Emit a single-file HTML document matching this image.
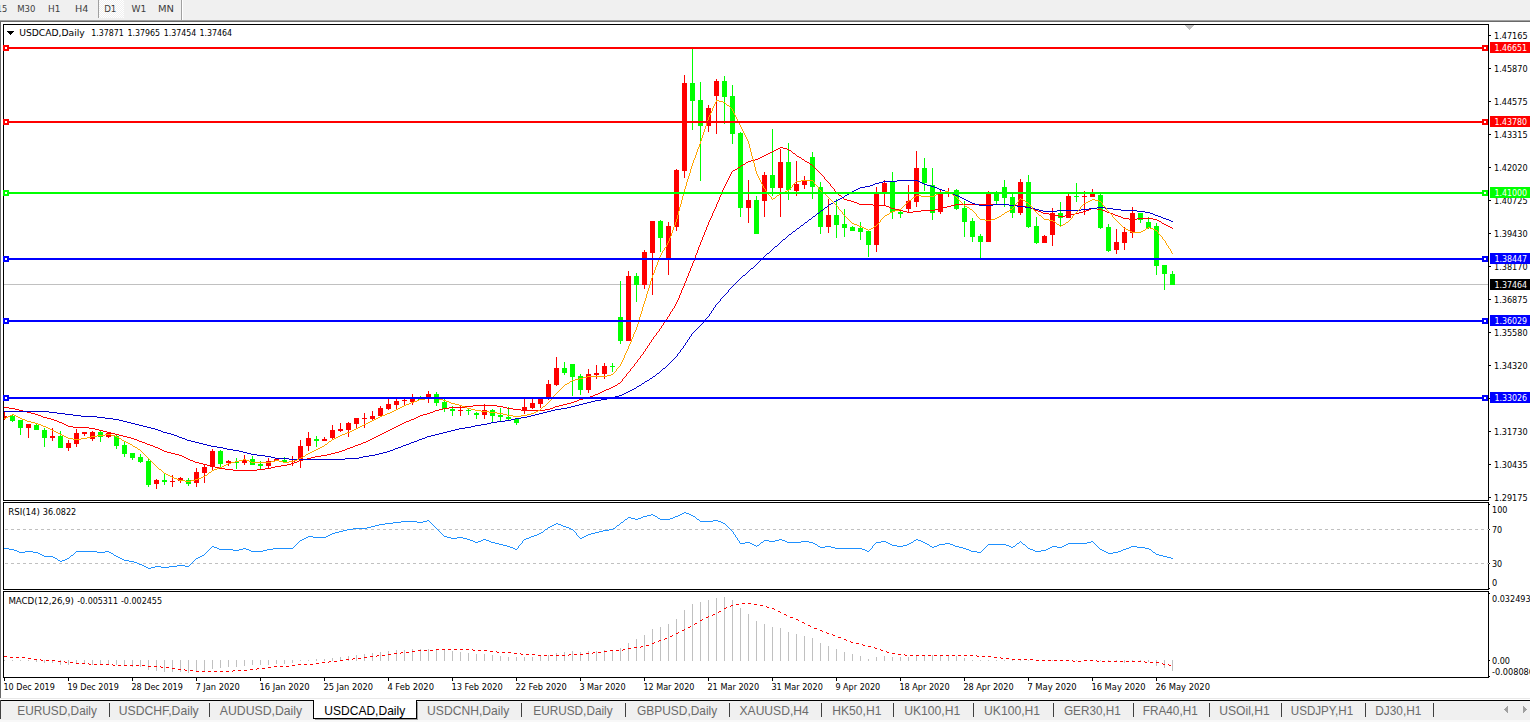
<!DOCTYPE html><html><head><meta charset="utf-8"><title>USDCAD,Daily</title><style>html,body{margin:0;padding:0;background:#fff;overflow:hidden}body{width:1530px;height:722px}text{font-family:"Liberation Sans",sans-serif;white-space:pre}text.s{font-family:"DejaVu Sans Condensed","DejaVu Sans","Liberation Sans",sans-serif}</style></head><body><svg width="1530" height="722" viewBox="0 0 1530 722" shape-rendering="crispEdges" font-family="'Liberation Sans', sans-serif" style="display:block"><rect x="0" y="0" width="1530" height="722" fill="#fff"/>
<rect x="0" y="0" width="1530" height="20" fill="#f0f0f0"/>
<rect x="0" y="20" width="1530" height="1" fill="#a0a0a0"/>
<rect x="0" y="21" width="1530" height="1" fill="#696969"/>
<rect x="0" y="22" width="1" height="676" fill="#696969"/>
<rect x="98" y="0" width="1" height="18" fill="#a0a0a0"/>
<defs><pattern id="chk" width="2" height="2" patternUnits="userSpaceOnUse"><rect width="2" height="2" fill="#f0f0f0"/><rect width="1" height="1" fill="#fff"/><rect x="1" y="1" width="1" height="1" fill="#fff"/></pattern></defs>
<rect x="99" y="0" width="25" height="18" fill="url(#chk)"/>
<rect x="181" y="0" width="1" height="20" fill="#a0a0a0"/>
<rect x="182" y="0" width="1" height="20" fill="#fff"/>
<g opacity="0.99">
<text x="-10.4" y="12" font-size="9.5" fill="#3c3c3c" textLength="17.6" lengthAdjust="spacingAndGlyphs" class="s">M15</text>
<text x="17.2" y="12" font-size="9.5" fill="#3c3c3c" textLength="18.2" lengthAdjust="spacingAndGlyphs" class="s">M30</text>
<text x="48" y="12" font-size="9.5" fill="#3c3c3c" textLength="12.4" lengthAdjust="spacingAndGlyphs" class="s">H1</text>
<text x="75" y="12" font-size="9.5" fill="#3c3c3c" textLength="13.4" lengthAdjust="spacingAndGlyphs" class="s">H4</text>
<text x="104.2" y="12" font-size="9.5" fill="#3c3c3c" textLength="12.2" lengthAdjust="spacingAndGlyphs" class="s">D1</text>
<text x="131.6" y="12" font-size="9.5" fill="#3c3c3c" textLength="14.8" lengthAdjust="spacingAndGlyphs" class="s">W1</text>
<text x="158" y="12" font-size="9.5" fill="#3c3c3c" textLength="16" lengthAdjust="spacingAndGlyphs" class="s">MN</text>
</g>
<rect x="3" y="24" width="1486" height="1" fill="#000"/>
<rect x="3" y="24" width="1" height="654" fill="#000"/>
<rect x="1488" y="24" width="1" height="654" fill="#000"/>
<rect x="3" y="500" width="1486" height="1" fill="#000"/>
<rect x="3" y="501" width="1486" height="1" fill="#fff"/>
<rect x="3" y="502" width="1486" height="1" fill="#000"/>
<rect x="3" y="589" width="1486" height="1" fill="#000"/>
<rect x="3" y="590" width="1486" height="1" fill="#fff"/>
<rect x="3" y="591" width="1486" height="1" fill="#000"/>
<rect x="3" y="677" width="1486" height="1" fill="#000"/>
<clipPath id="cm"><rect x="4" y="25" width="1484" height="475"/></clipPath>
<g clip-path="url(#cm)">
<rect x="4" y="284" width="1484" height="1" fill="#c0c0c0"/>
<rect x="4" y="412" width="1" height="8" fill="#ff0000"/>
<rect x="2" y="416" width="5" height="2" fill="#ff0000"/>
<rect x="12" y="414" width="1" height="8" fill="#00ff00"/>
<rect x="10" y="416" width="5" height="5" fill="#00ff00"/>
<rect x="20" y="420" width="1" height="15" fill="#00ff00"/>
<rect x="18" y="420" width="5" height="8" fill="#00ff00"/>
<rect x="28" y="424" width="1" height="14" fill="#ff0000"/>
<rect x="26" y="424" width="5" height="4" fill="#ff0000"/>
<rect x="36" y="424" width="1" height="6" fill="#00ff00"/>
<rect x="34" y="425" width="5" height="5" fill="#00ff00"/>
<rect x="44" y="428" width="1" height="19" fill="#00ff00"/>
<rect x="42" y="430" width="5" height="8" fill="#00ff00"/>
<rect x="52" y="428" width="1" height="13" fill="#ff0000"/>
<rect x="50" y="436" width="5" height="2" fill="#ff0000"/>
<rect x="60" y="431" width="1" height="17" fill="#00ff00"/>
<rect x="58" y="436" width="5" height="12" fill="#00ff00"/>
<rect x="68" y="440" width="1" height="11" fill="#ff0000"/>
<rect x="66" y="443" width="5" height="5" fill="#ff0000"/>
<rect x="76" y="429" width="1" height="18" fill="#ff0000"/>
<rect x="74" y="433" width="5" height="11" fill="#ff0000"/>
<rect x="84" y="432" width="1" height="4" fill="#ff0000"/>
<rect x="82" y="432" width="5" height="2" fill="#ff0000"/>
<rect x="92" y="431" width="1" height="10" fill="#ff0000"/>
<rect x="90" y="432" width="5" height="7" fill="#ff0000"/>
<rect x="100" y="431" width="1" height="11" fill="#00ff00"/>
<rect x="98" y="432" width="5" height="5" fill="#00ff00"/>
<rect x="108" y="432" width="1" height="6" fill="#ff0000"/>
<rect x="106" y="433" width="5" height="4" fill="#ff0000"/>
<rect x="116" y="435" width="1" height="14" fill="#00ff00"/>
<rect x="114" y="436" width="5" height="10" fill="#00ff00"/>
<rect x="124" y="441" width="1" height="16" fill="#00ff00"/>
<rect x="122" y="445" width="5" height="9" fill="#00ff00"/>
<rect x="132" y="453" width="1" height="7" fill="#00ff00"/>
<rect x="130" y="453" width="5" height="5" fill="#00ff00"/>
<rect x="140" y="454" width="1" height="9" fill="#00ff00"/>
<rect x="138" y="457" width="5" height="5" fill="#00ff00"/>
<rect x="148" y="458" width="1" height="29" fill="#00ff00"/>
<rect x="146" y="461" width="5" height="24" fill="#00ff00"/>
<rect x="156" y="479" width="1" height="10" fill="#ff0000"/>
<rect x="154" y="480" width="5" height="4" fill="#ff0000"/>
<rect x="164" y="473" width="1" height="12" fill="#00ff00"/>
<rect x="162" y="480" width="5" height="2" fill="#00ff00"/>
<rect x="172" y="475" width="1" height="12" fill="#ff0000"/>
<rect x="170" y="481" width="5" height="1" fill="#ff0000"/>
<rect x="180" y="477" width="1" height="6" fill="#ff0000"/>
<rect x="178" y="478" width="5" height="3" fill="#ff0000"/>
<rect x="188" y="478" width="1" height="8" fill="#00ff00"/>
<rect x="186" y="480" width="5" height="4" fill="#00ff00"/>
<rect x="196" y="468" width="1" height="19" fill="#ff0000"/>
<rect x="194" y="472" width="5" height="11" fill="#ff0000"/>
<rect x="204" y="465" width="1" height="18" fill="#ff0000"/>
<rect x="202" y="467" width="5" height="6" fill="#ff0000"/>
<rect x="212" y="449" width="1" height="21" fill="#ff0000"/>
<rect x="210" y="451" width="5" height="16" fill="#ff0000"/>
<rect x="220" y="450" width="1" height="17" fill="#00ff00"/>
<rect x="218" y="451" width="5" height="13" fill="#00ff00"/>
<rect x="228" y="460" width="1" height="6" fill="#ff0000"/>
<rect x="226" y="461" width="5" height="2" fill="#ff0000"/>
<rect x="236" y="458" width="1" height="11" fill="#00ff00"/>
<rect x="234" y="462" width="5" height="1" fill="#00ff00"/>
<rect x="244" y="455" width="1" height="10" fill="#ff0000"/>
<rect x="242" y="460" width="5" height="3" fill="#ff0000"/>
<rect x="252" y="456" width="1" height="9" fill="#00ff00"/>
<rect x="250" y="459" width="5" height="6" fill="#00ff00"/>
<rect x="260" y="461" width="1" height="8" fill="#00ff00"/>
<rect x="258" y="464" width="5" height="2" fill="#00ff00"/>
<rect x="268" y="458" width="1" height="10" fill="#ff0000"/>
<rect x="266" y="461" width="5" height="5" fill="#ff0000"/>
<rect x="276" y="458" width="1" height="3" fill="#ff0000"/>
<rect x="274" y="459" width="5" height="2" fill="#ff0000"/>
<rect x="284" y="457" width="1" height="5" fill="#00ff00"/>
<rect x="282" y="460" width="5" height="2" fill="#00ff00"/>
<rect x="292" y="456" width="1" height="10" fill="#ff0000"/>
<rect x="290" y="461" width="5" height="1" fill="#ff0000"/>
<rect x="300" y="440" width="1" height="28" fill="#ff0000"/>
<rect x="298" y="446" width="5" height="14" fill="#ff0000"/>
<rect x="308" y="432" width="1" height="19" fill="#ff0000"/>
<rect x="306" y="438" width="5" height="8" fill="#ff0000"/>
<rect x="316" y="436" width="1" height="11" fill="#00ff00"/>
<rect x="314" y="439" width="5" height="2" fill="#00ff00"/>
<rect x="324" y="437" width="1" height="4" fill="#ff0000"/>
<rect x="322" y="439" width="5" height="2" fill="#ff0000"/>
<rect x="332" y="425" width="1" height="14" fill="#ff0000"/>
<rect x="330" y="430" width="5" height="8" fill="#ff0000"/>
<rect x="340" y="423" width="1" height="9" fill="#ff0000"/>
<rect x="338" y="429" width="5" height="2" fill="#ff0000"/>
<rect x="348" y="422" width="1" height="15" fill="#ff0000"/>
<rect x="346" y="423" width="5" height="7" fill="#ff0000"/>
<rect x="356" y="418" width="1" height="10" fill="#ff0000"/>
<rect x="354" y="418" width="5" height="6" fill="#ff0000"/>
<rect x="364" y="413" width="1" height="15" fill="#ff0000"/>
<rect x="362" y="418" width="5" height="1" fill="#ff0000"/>
<rect x="372" y="411" width="1" height="10" fill="#ff0000"/>
<rect x="370" y="416" width="5" height="3" fill="#ff0000"/>
<rect x="380" y="406" width="1" height="11" fill="#ff0000"/>
<rect x="378" y="408" width="5" height="8" fill="#ff0000"/>
<rect x="388" y="399" width="1" height="11" fill="#ff0000"/>
<rect x="386" y="404" width="5" height="5" fill="#ff0000"/>
<rect x="396" y="399" width="1" height="10" fill="#ff0000"/>
<rect x="394" y="401" width="5" height="4" fill="#ff0000"/>
<rect x="404" y="399" width="1" height="7" fill="#ff0000"/>
<rect x="402" y="400" width="5" height="1" fill="#ff0000"/>
<rect x="412" y="394" width="1" height="11" fill="#ff0000"/>
<rect x="410" y="399" width="5" height="3" fill="#ff0000"/>
<rect x="420" y="396" width="1" height="4" fill="#00ff00"/>
<rect x="418" y="397" width="5" height="3" fill="#00ff00"/>
<rect x="428" y="391" width="1" height="12" fill="#ff0000"/>
<rect x="426" y="394" width="5" height="4" fill="#ff0000"/>
<rect x="436" y="392" width="1" height="14" fill="#00ff00"/>
<rect x="434" y="394" width="5" height="9" fill="#00ff00"/>
<rect x="444" y="399" width="1" height="13" fill="#00ff00"/>
<rect x="442" y="402" width="5" height="7" fill="#00ff00"/>
<rect x="452" y="406" width="1" height="10" fill="#00ff00"/>
<rect x="450" y="409" width="5" height="2" fill="#00ff00"/>
<rect x="460" y="405" width="1" height="11" fill="#ff0000"/>
<rect x="458" y="410" width="5" height="1" fill="#ff0000"/>
<rect x="468" y="408" width="1" height="7" fill="#00ff00"/>
<rect x="466" y="410" width="5" height="1" fill="#00ff00"/>
<rect x="476" y="412" width="1" height="7" fill="#00ff00"/>
<rect x="474" y="413" width="5" height="2" fill="#00ff00"/>
<rect x="484" y="404" width="1" height="15" fill="#ff0000"/>
<rect x="482" y="410" width="5" height="5" fill="#ff0000"/>
<rect x="492" y="409" width="1" height="13" fill="#00ff00"/>
<rect x="490" y="410" width="5" height="6" fill="#00ff00"/>
<rect x="500" y="408" width="1" height="13" fill="#00ff00"/>
<rect x="498" y="415" width="5" height="2" fill="#00ff00"/>
<rect x="508" y="407" width="1" height="14" fill="#00ff00"/>
<rect x="506" y="417" width="5" height="2" fill="#00ff00"/>
<rect x="516" y="418" width="1" height="7" fill="#00ff00"/>
<rect x="514" y="419" width="5" height="4" fill="#00ff00"/>
<rect x="524" y="399" width="1" height="15" fill="#ff0000"/>
<rect x="522" y="407" width="5" height="4" fill="#ff0000"/>
<rect x="532" y="399" width="1" height="10" fill="#ff0000"/>
<rect x="530" y="403" width="5" height="5" fill="#ff0000"/>
<rect x="540" y="399" width="1" height="9" fill="#ff0000"/>
<rect x="538" y="399" width="5" height="5" fill="#ff0000"/>
<rect x="548" y="380" width="1" height="20" fill="#ff0000"/>
<rect x="546" y="384" width="5" height="14" fill="#ff0000"/>
<rect x="556" y="357" width="1" height="29" fill="#ff0000"/>
<rect x="554" y="368" width="5" height="17" fill="#ff0000"/>
<rect x="564" y="362" width="1" height="13" fill="#00ff00"/>
<rect x="562" y="368" width="5" height="5" fill="#00ff00"/>
<rect x="572" y="364" width="1" height="32" fill="#00ff00"/>
<rect x="570" y="364" width="5" height="13" fill="#00ff00"/>
<rect x="580" y="374" width="1" height="21" fill="#00ff00"/>
<rect x="578" y="376" width="5" height="14" fill="#00ff00"/>
<rect x="588" y="369" width="1" height="24" fill="#ff0000"/>
<rect x="586" y="374" width="5" height="16" fill="#ff0000"/>
<rect x="596" y="365" width="1" height="14" fill="#ff0000"/>
<rect x="594" y="373" width="5" height="2" fill="#ff0000"/>
<rect x="604" y="363" width="1" height="16" fill="#ff0000"/>
<rect x="602" y="366" width="5" height="8" fill="#ff0000"/>
<rect x="612" y="363" width="1" height="9" fill="#00ff00"/>
<rect x="610" y="366" width="5" height="1" fill="#00ff00"/>
<rect x="620" y="281" width="1" height="63" fill="#00ff00"/>
<rect x="618" y="317" width="5" height="24" fill="#00ff00"/>
<rect x="628" y="271" width="1" height="70" fill="#ff0000"/>
<rect x="626" y="276" width="5" height="65" fill="#ff0000"/>
<rect x="636" y="273" width="1" height="29" fill="#00ff00"/>
<rect x="634" y="276" width="5" height="9" fill="#00ff00"/>
<rect x="644" y="250" width="1" height="39" fill="#ff0000"/>
<rect x="642" y="252" width="5" height="33" fill="#ff0000"/>
<rect x="652" y="221" width="1" height="74" fill="#ff0000"/>
<rect x="650" y="221" width="5" height="32" fill="#ff0000"/>
<rect x="660" y="220" width="1" height="32" fill="#00ff00"/>
<rect x="658" y="221" width="5" height="17" fill="#00ff00"/>
<rect x="668" y="222" width="1" height="53" fill="#ff0000"/>
<rect x="666" y="226" width="5" height="32" fill="#ff0000"/>
<rect x="676" y="169" width="1" height="62" fill="#ff0000"/>
<rect x="674" y="170" width="5" height="57" fill="#ff0000"/>
<rect x="684" y="75" width="1" height="103" fill="#ff0000"/>
<rect x="682" y="83" width="5" height="88" fill="#ff0000"/>
<rect x="692" y="49" width="1" height="81" fill="#00ff00"/>
<rect x="690" y="83" width="5" height="18" fill="#00ff00"/>
<rect x="700" y="82" width="1" height="99" fill="#00ff00"/>
<rect x="698" y="100" width="5" height="26" fill="#00ff00"/>
<rect x="708" y="105" width="1" height="27" fill="#ff0000"/>
<rect x="706" y="108" width="5" height="18" fill="#ff0000"/>
<rect x="716" y="79" width="1" height="55" fill="#ff0000"/>
<rect x="714" y="81" width="5" height="15" fill="#ff0000"/>
<rect x="724" y="76" width="1" height="48" fill="#00ff00"/>
<rect x="722" y="81" width="5" height="16" fill="#00ff00"/>
<rect x="732" y="85" width="1" height="59" fill="#00ff00"/>
<rect x="730" y="96" width="5" height="38" fill="#00ff00"/>
<rect x="740" y="132" width="1" height="85" fill="#00ff00"/>
<rect x="738" y="133" width="5" height="75" fill="#00ff00"/>
<rect x="748" y="180" width="1" height="43" fill="#ff0000"/>
<rect x="746" y="200" width="5" height="8" fill="#ff0000"/>
<rect x="756" y="196" width="1" height="38" fill="#00ff00"/>
<rect x="754" y="200" width="5" height="34" fill="#00ff00"/>
<rect x="764" y="172" width="1" height="45" fill="#ff0000"/>
<rect x="762" y="175" width="5" height="26" fill="#ff0000"/>
<rect x="772" y="129" width="1" height="67" fill="#00ff00"/>
<rect x="770" y="175" width="5" height="13" fill="#00ff00"/>
<rect x="780" y="149" width="1" height="68" fill="#ff0000"/>
<rect x="778" y="162" width="5" height="26" fill="#ff0000"/>
<rect x="788" y="143" width="1" height="57" fill="#00ff00"/>
<rect x="786" y="162" width="5" height="28" fill="#00ff00"/>
<rect x="796" y="161" width="1" height="35" fill="#ff0000"/>
<rect x="794" y="184" width="5" height="7" fill="#ff0000"/>
<rect x="804" y="176" width="1" height="13" fill="#ff0000"/>
<rect x="802" y="180" width="5" height="5" fill="#ff0000"/>
<rect x="812" y="152" width="1" height="47" fill="#00ff00"/>
<rect x="810" y="157" width="5" height="30" fill="#00ff00"/>
<rect x="820" y="182" width="1" height="52" fill="#00ff00"/>
<rect x="818" y="187" width="5" height="40" fill="#00ff00"/>
<rect x="828" y="199" width="1" height="34" fill="#ff0000"/>
<rect x="826" y="215" width="5" height="12" fill="#ff0000"/>
<rect x="836" y="199" width="1" height="39" fill="#00ff00"/>
<rect x="834" y="215" width="5" height="10" fill="#00ff00"/>
<rect x="844" y="209" width="1" height="28" fill="#00ff00"/>
<rect x="842" y="224" width="5" height="4" fill="#00ff00"/>
<rect x="852" y="226" width="1" height="5" fill="#00ff00"/>
<rect x="850" y="227" width="5" height="4" fill="#00ff00"/>
<rect x="860" y="222" width="1" height="18" fill="#00ff00"/>
<rect x="858" y="228" width="5" height="4" fill="#00ff00"/>
<rect x="868" y="230" width="1" height="27" fill="#00ff00"/>
<rect x="866" y="231" width="5" height="14" fill="#00ff00"/>
<rect x="876" y="187" width="1" height="65" fill="#ff0000"/>
<rect x="874" y="194" width="5" height="51" fill="#ff0000"/>
<rect x="884" y="180" width="1" height="26" fill="#ff0000"/>
<rect x="882" y="183" width="5" height="9" fill="#ff0000"/>
<rect x="892" y="172" width="1" height="47" fill="#00ff00"/>
<rect x="890" y="182" width="5" height="30" fill="#00ff00"/>
<rect x="900" y="210" width="1" height="8" fill="#00ff00"/>
<rect x="898" y="212" width="5" height="2" fill="#00ff00"/>
<rect x="908" y="185" width="1" height="27" fill="#ff0000"/>
<rect x="906" y="201" width="5" height="8" fill="#ff0000"/>
<rect x="916" y="151" width="1" height="56" fill="#ff0000"/>
<rect x="914" y="168" width="5" height="34" fill="#ff0000"/>
<rect x="924" y="158" width="1" height="33" fill="#00ff00"/>
<rect x="922" y="168" width="5" height="15" fill="#00ff00"/>
<rect x="932" y="168" width="1" height="52" fill="#00ff00"/>
<rect x="930" y="185" width="5" height="28" fill="#00ff00"/>
<rect x="940" y="190" width="1" height="24" fill="#ff0000"/>
<rect x="938" y="192" width="5" height="20" fill="#ff0000"/>
<rect x="948" y="188" width="1" height="9" fill="#ff0000"/>
<rect x="946" y="192" width="5" height="2" fill="#ff0000"/>
<rect x="956" y="189" width="1" height="21" fill="#00ff00"/>
<rect x="954" y="190" width="5" height="19" fill="#00ff00"/>
<rect x="964" y="201" width="1" height="36" fill="#00ff00"/>
<rect x="962" y="208" width="5" height="14" fill="#00ff00"/>
<rect x="972" y="218" width="1" height="24" fill="#00ff00"/>
<rect x="970" y="221" width="5" height="16" fill="#00ff00"/>
<rect x="980" y="234" width="1" height="24" fill="#00ff00"/>
<rect x="978" y="236" width="5" height="6" fill="#00ff00"/>
<rect x="988" y="191" width="1" height="51" fill="#ff0000"/>
<rect x="986" y="194" width="5" height="48" fill="#ff0000"/>
<rect x="996" y="191" width="1" height="13" fill="#00ff00"/>
<rect x="994" y="192" width="5" height="9" fill="#00ff00"/>
<rect x="1004" y="180" width="1" height="27" fill="#00ff00"/>
<rect x="1002" y="187" width="5" height="11" fill="#00ff00"/>
<rect x="1012" y="194" width="1" height="24" fill="#00ff00"/>
<rect x="1010" y="197" width="5" height="16" fill="#00ff00"/>
<rect x="1020" y="179" width="1" height="36" fill="#ff0000"/>
<rect x="1018" y="182" width="5" height="31" fill="#ff0000"/>
<rect x="1028" y="175" width="1" height="53" fill="#00ff00"/>
<rect x="1026" y="182" width="5" height="45" fill="#00ff00"/>
<rect x="1036" y="217" width="1" height="27" fill="#00ff00"/>
<rect x="1034" y="226" width="5" height="17" fill="#00ff00"/>
<rect x="1044" y="235" width="1" height="8" fill="#ff0000"/>
<rect x="1042" y="236" width="5" height="7" fill="#ff0000"/>
<rect x="1052" y="208" width="1" height="38" fill="#ff0000"/>
<rect x="1050" y="213" width="5" height="22" fill="#ff0000"/>
<rect x="1060" y="202" width="1" height="25" fill="#00ff00"/>
<rect x="1058" y="213" width="5" height="5" fill="#00ff00"/>
<rect x="1068" y="194" width="1" height="24" fill="#ff0000"/>
<rect x="1066" y="196" width="5" height="22" fill="#ff0000"/>
<rect x="1076" y="183" width="1" height="19" fill="#00ff00"/>
<rect x="1074" y="196" width="5" height="1" fill="#00ff00"/>
<rect x="1084" y="191" width="1" height="24" fill="#ff0000"/>
<rect x="1082" y="196" width="5" height="1" fill="#ff0000"/>
<rect x="1092" y="189" width="1" height="8" fill="#ff0000"/>
<rect x="1090" y="192" width="5" height="5" fill="#ff0000"/>
<rect x="1100" y="194" width="1" height="35" fill="#00ff00"/>
<rect x="1098" y="195" width="5" height="33" fill="#00ff00"/>
<rect x="1108" y="224" width="1" height="28" fill="#00ff00"/>
<rect x="1106" y="227" width="5" height="24" fill="#00ff00"/>
<rect x="1116" y="229" width="1" height="25" fill="#ff0000"/>
<rect x="1114" y="242" width="5" height="8" fill="#ff0000"/>
<rect x="1124" y="227" width="1" height="23" fill="#ff0000"/>
<rect x="1122" y="232" width="5" height="11" fill="#ff0000"/>
<rect x="1132" y="207" width="1" height="31" fill="#ff0000"/>
<rect x="1130" y="213" width="5" height="20" fill="#ff0000"/>
<rect x="1140" y="213" width="1" height="10" fill="#00ff00"/>
<rect x="1138" y="213" width="5" height="7" fill="#00ff00"/>
<rect x="1148" y="217" width="1" height="12" fill="#00ff00"/>
<rect x="1146" y="222" width="5" height="6" fill="#00ff00"/>
<rect x="1156" y="223" width="1" height="52" fill="#00ff00"/>
<rect x="1154" y="226" width="5" height="40" fill="#00ff00"/>
<rect x="1164" y="265" width="1" height="25" fill="#00ff00"/>
<rect x="1162" y="265" width="5" height="9" fill="#00ff00"/>
<rect x="1172" y="271" width="1" height="14" fill="#00ff00"/>
<rect x="1170" y="274" width="5" height="11" fill="#00ff00"/>
</g>
<g clip-path="url(#cm)">
<path d="M780 147h3v1h-3zM778 148h2v1h-2zM783 148h4v1h-4zM776 149h2v1h-2zM787 149h2v1h-2zM774 150h2v1h-2zM789 150h2v1h-2zM772 151h2v1h-2zM791 151h1v1h-1zM770 152h2v1h-2zM792 152h1v1h-1zM768 153h2v1h-2zM793 153h2v1h-2zM766 154h2v1h-2zM795 154h1v1h-1zM764 155h2v1h-2zM796 155h1v1h-1zM762 156h2v1h-2zM797 156h2v1h-2zM760 157h2v1h-2zM799 157h2v1h-2zM758 158h2v1h-2zM801 158h1v1h-1zM755 159h3v1h-3zM802 159h2v1h-2zM751 160h4v1h-4zM804 160h1v1h-1zM748 161h3v1h-3zM805 161h2v1h-2zM746 162h2v1h-2zM807 162h2v1h-2zM745 163h1v1h-1zM809 163h1v1h-1zM743 164h2v1h-2zM810 164h2v1h-2zM741 165h2v1h-2zM812 165h1v1h-1zM740 166h1v1h-1zM813 166h1v1h-1zM738 167h2v1h-2zM814 167h1v1h-1zM737 168h1v1h-1zM815 168h1v1h-1zM735 169h2v1h-2zM816 169h1v1h-1zM733 170h2v1h-2zM817 170h1v1h-1zM732 171h1v1h-1zM818 171h1v1h-1zM731 172h1v1h-1zM819 172h1v1h-1zM731 173h1v1h-1zM820 173h1v1h-1zM730 174h1v1h-1zM821 174h1v1h-1zM730 175h1v1h-1zM822 175h1v1h-1zM729 176h1v1h-1zM823 176h1v1h-1zM729 177h1v1h-1zM824 177h1v1h-1zM728 178h1v1h-1zM824 178h1v1h-1zM728 179h1v1h-1zM825 179h1v1h-1zM727 180h1v1h-1zM826 180h1v1h-1zM727 181h1v1h-1zM827 181h1v1h-1zM726 182h1v1h-1zM828 182h1v1h-1zM726 183h1v1h-1zM829 183h1v1h-1zM725 184h1v1h-1zM830 184h1v1h-1zM725 185h1v1h-1zM830 185h1v1h-1zM724 186h1v1h-1zM831 186h1v1h-1zM724 187h1v1h-1zM832 187h1v1h-1zM723 188h1v1h-1zM833 188h1v1h-1zM723 189h1v1h-1zM834 189h1v1h-1zM722 190h1v1h-1zM834 190h1v1h-1zM722 191h1v1h-1zM835 191h1v1h-1zM721 192h1v1h-1zM836 192h1v1h-1zM721 193h1v1h-1zM837 193h1v1h-1zM721 194h1v1h-1zM838 194h1v1h-1zM720 195h1v1h-1zM839 195h2v1h-2zM720 196h1v1h-1zM841 196h1v1h-1zM719 197h1v1h-1zM842 197h1v1h-1zM719 198h1v1h-1zM843 198h1v1h-1zM719 199h1v1h-1zM844 199h3v1h-3zM718 200h1v1h-1zM847 200h4v1h-4zM718 201h1v1h-1zM851 201h3v1h-3zM717 202h1v1h-1zM854 202h3v1h-3zM717 203h1v1h-1zM857 203h2v1h-2zM716 204h1v1h-1zM859 204h14v1h-14zM955 204h54v1h-54zM716 205h1v1h-1zM873 205h13v1h-13zM951 205h4v1h-4zM1009 205h14v1h-14zM716 206h1v1h-1zM886 206h3v1h-3zM947 206h4v1h-4zM1023 206h4v1h-4zM715 207h1v1h-1zM889 207h2v1h-2zM943 207h4v1h-4zM1027 207h3v1h-3zM715 208h1v1h-1zM891 208h4v1h-4zM939 208h4v1h-4zM1030 208h3v1h-3zM1091 208h6v1h-6zM714 209h1v1h-1zM895 209h4v1h-4zM935 209h4v1h-4zM1033 209h2v1h-2zM1089 209h2v1h-2zM1097 209h5v1h-5zM714 210h1v1h-1zM899 210h4v1h-4zM921 210h14v1h-14zM1035 210h3v1h-3zM1086 210h3v1h-3zM1102 210h3v1h-3zM713 211h1v1h-1zM903 211h4v1h-4zM913 211h8v1h-8zM1038 211h3v1h-3zM1083 211h3v1h-3zM1105 211h2v1h-2zM713 212h1v1h-1zM907 212h6v1h-6zM1041 212h2v1h-2zM1079 212h4v1h-4zM1107 212h3v1h-3zM712 213h1v1h-1zM1043 213h6v1h-6zM1075 213h4v1h-4zM1110 213h3v1h-3zM712 214h1v1h-1zM1049 214h6v1h-6zM1071 214h4v1h-4zM1113 214h2v1h-2zM712 215h1v1h-1zM1055 215h4v1h-4zM1065 215h6v1h-6zM1115 215h3v1h-3zM711 216h1v1h-1zM1059 216h6v1h-6zM1118 216h3v1h-3zM711 217h1v1h-1zM1121 217h2v1h-2zM710 218h1v1h-1zM1123 218h6v1h-6zM1137 218h16v1h-16zM710 219h1v1h-1zM1129 219h8v1h-8zM1153 219h4v1h-4zM709 220h1v1h-1zM1157 220h2v1h-2zM709 221h1v1h-1zM1159 221h2v1h-2zM708 222h1v1h-1zM1161 222h1v1h-1zM708 223h1v1h-1zM1162 223h2v1h-2zM708 224h1v1h-1zM1164 224h2v1h-2zM707 225h1v1h-1zM1166 225h2v1h-2zM707 226h1v1h-1zM1168 226h2v1h-2zM706 227h1v1h-1zM1170 227h2v1h-2zM706 228h1v1h-1zM1172 228h1v1h-1zM706 229h1v1h-1zM705 230h1v1h-1zM705 231h1v1h-1zM704 232h1v1h-1zM704 233h1v1h-1zM704 234h1v1h-1zM703 235h1v1h-1zM703 236h1v1h-1zM702 237h1v1h-1zM702 238h1v1h-1zM702 239h1v1h-1zM701 240h1v1h-1zM701 241h1v1h-1zM700 242h1v1h-1zM700 243h1v1h-1zM700 244h1v1h-1zM699 245h1v1h-1zM699 246h1v1h-1zM698 247h1v1h-1zM698 248h1v1h-1zM698 249h1v1h-1zM697 250h1v1h-1zM697 251h1v1h-1zM697 252h1v1h-1zM696 253h1v1h-1zM696 254h1v1h-1zM695 255h1v1h-1zM695 256h1v1h-1zM695 257h1v1h-1zM694 258h1v1h-1zM694 259h1v1h-1zM694 260h1v1h-1zM693 261h1v1h-1zM693 262h1v1h-1zM692 263h1v1h-1zM692 264h1v1h-1zM692 265h1v1h-1zM691 266h1v1h-1zM691 267h1v1h-1zM690 268h1v1h-1zM690 269h1v1h-1zM690 270h1v1h-1zM689 271h1v1h-1zM689 272h1v1h-1zM688 273h1v1h-1zM688 274h1v1h-1zM688 275h1v1h-1zM687 276h1v1h-1zM687 277h1v1h-1zM686 278h1v1h-1zM686 279h1v1h-1zM686 280h1v1h-1zM685 281h1v1h-1zM685 282h1v1h-1zM684 283h1v1h-1zM684 284h1v1h-1zM684 285h1v1h-1zM683 286h1v1h-1zM683 287h1v1h-1zM682 288h1v1h-1zM682 289h1v1h-1zM681 290h1v1h-1zM681 291h1v1h-1zM681 292h1v1h-1zM680 293h1v1h-1zM680 294h1v1h-1zM679 295h1v1h-1zM679 296h1v1h-1zM679 297h1v1h-1zM678 298h1v1h-1zM678 299h1v1h-1zM677 300h1v1h-1zM677 301h1v1h-1zM676 302h1v1h-1zM676 303h1v1h-1zM675 304h1v1h-1zM675 305h1v1h-1zM674 306h1v1h-1zM674 307h1v1h-1zM673 308h1v1h-1zM672 309h1v1h-1zM672 310h1v1h-1zM671 311h1v1h-1zM670 312h1v1h-1zM670 313h1v1h-1zM669 314h1v1h-1zM669 315h1v1h-1zM668 316h1v1h-1zM667 317h1v1h-1zM667 318h1v1h-1zM666 319h1v1h-1zM665 320h1v1h-1zM665 321h1v1h-1zM664 322h1v1h-1zM663 323h1v1h-1zM663 324h1v1h-1zM662 325h1v1h-1zM661 326h1v1h-1zM661 327h1v1h-1zM660 328h1v1h-1zM659 329h1v1h-1zM659 330h1v1h-1zM658 331h1v1h-1zM657 332h1v1h-1zM656 333h1v1h-1zM656 334h1v1h-1zM655 335h1v1h-1zM654 336h1v1h-1zM653 337h1v1h-1zM653 338h1v1h-1zM652 339h1v1h-1zM651 340h1v1h-1zM651 341h1v1h-1zM650 342h1v1h-1zM649 343h1v1h-1zM649 344h1v1h-1zM648 345h1v1h-1zM647 346h1v1h-1zM647 347h1v1h-1zM646 348h1v1h-1zM645 349h1v1h-1zM645 350h1v1h-1zM644 351h1v1h-1zM643 352h1v1h-1zM643 353h1v1h-1zM642 354h1v1h-1zM641 355h1v1h-1zM640 356h1v1h-1zM640 357h1v1h-1zM639 358h1v1h-1zM638 359h1v1h-1zM637 360h1v1h-1zM637 361h1v1h-1zM636 362h1v1h-1zM635 363h1v1h-1zM634 364h1v1h-1zM634 365h1v1h-1zM633 366h1v1h-1zM632 367h1v1h-1zM631 368h1v1h-1zM630 369h1v1h-1zM630 370h1v1h-1zM629 371h1v1h-1zM628 372h1v1h-1zM627 373h1v1h-1zM626 374h1v1h-1zM626 375h1v1h-1zM625 376h1v1h-1zM624 377h1v1h-1zM623 378h1v1h-1zM622 379h1v1h-1zM622 380h1v1h-1zM621 381h1v1h-1zM620 382h1v1h-1zM618 383h2v1h-2zM617 384h1v1h-1zM615 385h2v1h-2zM613 386h2v1h-2zM611 387h2v1h-2zM609 388h2v1h-2zM606 389h3v1h-3zM604 390h2v1h-2zM602 391h2v1h-2zM600 392h2v1h-2zM598 393h2v1h-2zM595 394h3v1h-3zM593 395h2v1h-2zM590 396h3v1h-3zM587 397h3v1h-3zM583 398h4v1h-4zM579 399h4v1h-4zM577 400h2v1h-2zM574 401h3v1h-3zM571 402h3v1h-3zM567 403h4v1h-4zM563 404h4v1h-4zM473 405h24v1h-24zM559 405h4v1h-4zM465 406h8v1h-8zM497 406h6v1h-6zM555 406h4v1h-4zM4 407h5v1h-5zM449 407h16v1h-16zM503 407h4v1h-4zM553 407h2v1h-2zM9 408h6v1h-6zM443 408h6v1h-6zM507 408h6v1h-6zM550 408h3v1h-3zM15 409h4v1h-4zM439 409h4v1h-4zM513 409h8v1h-8zM545 409h5v1h-5zM19 410h4v1h-4zM435 410h4v1h-4zM521 410h24v1h-24zM23 411h4v1h-4zM433 411h2v1h-2zM27 412h4v1h-4zM430 412h3v1h-3zM31 413h4v1h-4zM427 413h3v1h-3zM35 414h3v1h-3zM423 414h4v1h-4zM38 415h3v1h-3zM420 415h3v1h-3zM41 416h2v1h-2zM418 416h2v1h-2zM43 417h4v1h-4zM416 417h2v1h-2zM47 418h4v1h-4zM414 418h2v1h-2zM51 419h3v1h-3zM411 419h3v1h-3zM54 420h3v1h-3zM409 420h2v1h-2zM57 421h2v1h-2zM406 421h3v1h-3zM59 422h3v1h-3zM404 422h2v1h-2zM62 423h2v1h-2zM402 423h2v1h-2zM64 424h2v1h-2zM400 424h2v1h-2zM66 425h2v1h-2zM398 425h2v1h-2zM68 426h5v1h-5zM396 426h2v1h-2zM73 427h16v1h-16zM394 427h2v1h-2zM89 428h6v1h-6zM392 428h2v1h-2zM95 429h4v1h-4zM390 429h2v1h-2zM99 430h4v1h-4zM388 430h2v1h-2zM103 431h4v1h-4zM386 431h2v1h-2zM107 432h4v1h-4zM384 432h2v1h-2zM111 433h4v1h-4zM382 433h2v1h-2zM115 434h4v1h-4zM380 434h2v1h-2zM119 435h4v1h-4zM378 435h2v1h-2zM123 436h4v1h-4zM376 436h2v1h-2zM127 437h4v1h-4zM374 437h2v1h-2zM131 438h3v1h-3zM372 438h2v1h-2zM134 439h3v1h-3zM370 439h2v1h-2zM137 440h2v1h-2zM368 440h2v1h-2zM139 441h3v1h-3zM366 441h2v1h-2zM142 442h3v1h-3zM363 442h3v1h-3zM145 443h2v1h-2zM361 443h2v1h-2zM147 444h3v1h-3zM358 444h3v1h-3zM150 445h3v1h-3zM355 445h3v1h-3zM153 446h2v1h-2zM353 446h2v1h-2zM155 447h3v1h-3zM350 447h3v1h-3zM158 448h2v1h-2zM347 448h3v1h-3zM160 449h2v1h-2zM345 449h2v1h-2zM162 450h2v1h-2zM342 450h3v1h-3zM164 451h3v1h-3zM339 451h3v1h-3zM167 452h4v1h-4zM335 452h4v1h-4zM171 453h4v1h-4zM331 453h4v1h-4zM175 454h4v1h-4zM327 454h4v1h-4zM179 455h3v1h-3zM321 455h6v1h-6zM182 456h2v1h-2zM315 456h6v1h-6zM184 457h2v1h-2zM311 457h4v1h-4zM186 458h2v1h-2zM307 458h4v1h-4zM188 459h2v1h-2zM303 459h4v1h-4zM190 460h3v1h-3zM299 460h4v1h-4zM193 461h2v1h-2zM297 461h2v1h-2zM195 462h4v1h-4zM294 462h3v1h-3zM199 463h4v1h-4zM291 463h3v1h-3zM203 464h4v1h-4zM287 464h4v1h-4zM207 465h4v1h-4zM281 465h6v1h-6zM211 466h4v1h-4zM275 466h6v1h-6zM215 467h4v1h-4zM271 467h4v1h-4zM219 468h6v1h-6zM265 468h6v1h-6zM225 469h8v1h-8zM257 469h8v1h-8zM233 470h24v1h-24z" fill="#ff0000"/>
<path d="M897 180h21v1h-21zM883 181h14v1h-14zM918 181h2v1h-2zM879 182h4v1h-4zM920 182h2v1h-2zM875 183h4v1h-4zM922 183h2v1h-2zM873 184h2v1h-2zM924 184h3v1h-3zM870 185h3v1h-3zM927 185h4v1h-4zM865 186h5v1h-5zM931 186h3v1h-3zM860 187h5v1h-5zM934 187h3v1h-3zM858 188h2v1h-2zM937 188h2v1h-2zM856 189h2v1h-2zM939 189h3v1h-3zM854 190h2v1h-2zM942 190h3v1h-3zM852 191h2v1h-2zM945 191h2v1h-2zM850 192h2v1h-2zM947 192h3v1h-3zM849 193h1v1h-1zM950 193h3v1h-3zM847 194h2v1h-2zM953 194h2v1h-2zM845 195h2v1h-2zM955 195h3v1h-3zM844 196h1v1h-1zM958 196h2v1h-2zM842 197h2v1h-2zM960 197h2v1h-2zM840 198h2v1h-2zM962 198h2v1h-2zM838 199h2v1h-2zM964 199h2v1h-2zM836 200h2v1h-2zM966 200h2v1h-2zM834 201h2v1h-2zM968 201h2v1h-2zM833 202h1v1h-1zM970 202h2v1h-2zM831 203h2v1h-2zM972 203h3v1h-3zM829 204h2v1h-2zM975 204h4v1h-4zM993 204h16v1h-16zM828 205h1v1h-1zM979 205h14v1h-14zM1009 205h8v1h-8zM827 206h1v1h-1zM1017 206h8v1h-8zM825 207h2v1h-2zM1025 207h6v1h-6zM1097 207h8v1h-8zM824 208h1v1h-1zM1031 208h4v1h-4zM1089 208h8v1h-8zM1105 208h8v1h-8zM823 209h1v1h-1zM1035 209h4v1h-4zM1081 209h8v1h-8zM1113 209h8v1h-8zM821 210h2v1h-2zM1039 210h4v1h-4zM1057 210h24v1h-24zM1121 210h16v1h-16zM820 211h1v1h-1zM1043 211h14v1h-14zM1137 211h8v1h-8zM819 212h1v1h-1zM1145 212h5v1h-5zM817 213h2v1h-2zM1150 213h3v1h-3zM816 214h1v1h-1zM1153 214h2v1h-2zM815 215h1v1h-1zM1155 215h3v1h-3zM813 216h2v1h-2zM1158 216h3v1h-3zM812 217h1v1h-1zM1161 217h2v1h-2zM811 218h1v1h-1zM1163 218h3v1h-3zM809 219h2v1h-2zM1166 219h3v1h-3zM808 220h1v1h-1zM1169 220h2v1h-2zM807 221h1v1h-1zM1171 221h2v1h-2zM805 222h2v1h-2zM804 223h1v1h-1zM803 224h1v1h-1zM801 225h2v1h-2zM800 226h1v1h-1zM799 227h1v1h-1zM797 228h2v1h-2zM796 229h1v1h-1zM795 230h1v1h-1zM793 231h2v1h-2zM792 232h1v1h-1zM791 233h1v1h-1zM789 234h2v1h-2zM788 235h1v1h-1zM787 236h1v1h-1zM786 237h1v1h-1zM785 238h1v1h-1zM783 239h2v1h-2zM782 240h1v1h-1zM781 241h1v1h-1zM780 242h1v1h-1zM779 243h1v1h-1zM778 244h1v1h-1zM777 245h1v1h-1zM775 246h2v1h-2zM774 247h1v1h-1zM773 248h1v1h-1zM772 249h1v1h-1zM771 250h1v1h-1zM770 251h1v1h-1zM769 252h1v1h-1zM767 253h2v1h-2zM766 254h1v1h-1zM765 255h1v1h-1zM764 256h1v1h-1zM763 257h1v1h-1zM762 258h1v1h-1zM761 259h1v1h-1zM760 260h1v1h-1zM759 261h1v1h-1zM758 262h1v1h-1zM757 263h1v1h-1zM756 264h1v1h-1zM755 265h1v1h-1zM754 266h1v1h-1zM753 267h1v1h-1zM751 268h2v1h-2zM750 269h1v1h-1zM749 270h1v1h-1zM748 271h1v1h-1zM747 272h1v1h-1zM746 273h1v1h-1zM745 274h1v1h-1zM743 275h2v1h-2zM742 276h1v1h-1zM741 277h1v1h-1zM740 278h1v1h-1zM739 279h1v1h-1zM738 280h1v1h-1zM737 281h1v1h-1zM736 282h1v1h-1zM735 283h1v1h-1zM734 284h1v1h-1zM733 285h1v1h-1zM732 286h1v1h-1zM731 287h1v1h-1zM730 288h1v1h-1zM729 289h1v1h-1zM728 290h1v1h-1zM728 291h1v1h-1zM727 292h1v1h-1zM726 293h1v1h-1zM725 294h1v1h-1zM724 295h1v1h-1zM723 296h1v1h-1zM722 297h1v1h-1zM721 298h1v1h-1zM720 299h1v1h-1zM720 300h1v1h-1zM719 301h1v1h-1zM718 302h1v1h-1zM717 303h1v1h-1zM716 304h1v1h-1zM715 305h1v1h-1zM715 306h1v1h-1zM714 307h1v1h-1zM713 308h1v1h-1zM713 309h1v1h-1zM712 310h1v1h-1zM711 311h1v1h-1zM711 312h1v1h-1zM710 313h1v1h-1zM709 314h1v1h-1zM709 315h1v1h-1zM708 316h1v1h-1zM707 317h1v1h-1zM706 318h1v1h-1zM705 319h1v1h-1zM704 320h1v1h-1zM704 321h1v1h-1zM703 322h1v1h-1zM702 323h1v1h-1zM701 324h1v1h-1zM700 325h1v1h-1zM699 326h1v1h-1zM698 327h1v1h-1zM697 328h1v1h-1zM696 329h1v1h-1zM695 330h1v1h-1zM694 331h1v1h-1zM693 332h1v1h-1zM692 333h1v1h-1zM691 334h1v1h-1zM691 335h1v1h-1zM690 336h1v1h-1zM689 337h1v1h-1zM689 338h1v1h-1zM688 339h1v1h-1zM687 340h1v1h-1zM687 341h1v1h-1zM686 342h1v1h-1zM685 343h1v1h-1zM685 344h1v1h-1zM684 345h1v1h-1zM683 346h1v1h-1zM683 347h1v1h-1zM682 348h1v1h-1zM681 349h1v1h-1zM680 350h1v1h-1zM680 351h1v1h-1zM679 352h1v1h-1zM678 353h1v1h-1zM677 354h1v1h-1zM677 355h1v1h-1zM676 356h1v1h-1zM675 357h1v1h-1zM674 358h1v1h-1zM673 359h1v1h-1zM672 360h1v1h-1zM671 361h1v1h-1zM670 362h1v1h-1zM669 363h1v1h-1zM668 364h1v1h-1zM667 365h1v1h-1zM666 366h1v1h-1zM665 367h1v1h-1zM663 368h2v1h-2zM662 369h1v1h-1zM661 370h1v1h-1zM660 371h1v1h-1zM659 372h1v1h-1zM657 373h2v1h-2zM656 374h1v1h-1zM655 375h1v1h-1zM653 376h2v1h-2zM652 377h1v1h-1zM650 378h2v1h-2zM649 379h1v1h-1zM647 380h2v1h-2zM645 381h2v1h-2zM644 382h1v1h-1zM642 383h2v1h-2zM641 384h1v1h-1zM639 385h2v1h-2zM637 386h2v1h-2zM636 387h1v1h-1zM634 388h2v1h-2zM632 389h2v1h-2zM630 390h2v1h-2zM628 391h2v1h-2zM626 392h2v1h-2zM624 393h2v1h-2zM622 394h2v1h-2zM619 395h3v1h-3zM615 396h4v1h-4zM611 397h4v1h-4zM607 398h4v1h-4zM601 399h6v1h-6zM595 400h6v1h-6zM591 401h4v1h-4zM587 402h4v1h-4zM583 403h4v1h-4zM579 404h4v1h-4zM575 405h4v1h-4zM571 406h4v1h-4zM567 407h4v1h-4zM561 408h6v1h-6zM555 409h6v1h-6zM551 410h4v1h-4zM4 411h45v1h-45zM547 411h4v1h-4zM49 412h8v1h-8zM543 412h4v1h-4zM57 413h8v1h-8zM539 413h4v1h-4zM65 414h8v1h-8zM535 414h4v1h-4zM73 415h8v1h-8zM531 415h4v1h-4zM81 416h16v1h-16zM527 416h4v1h-4zM97 417h8v1h-8zM521 417h6v1h-6zM105 418h8v1h-8zM515 418h6v1h-6zM113 419h6v1h-6zM511 419h4v1h-4zM119 420h4v1h-4zM505 420h6v1h-6zM123 421h4v1h-4zM497 421h8v1h-8zM127 422h4v1h-4zM491 422h6v1h-6zM131 423h4v1h-4zM487 423h4v1h-4zM135 424h4v1h-4zM481 424h6v1h-6zM139 425h4v1h-4zM475 425h6v1h-6zM143 426h4v1h-4zM471 426h4v1h-4zM147 427h4v1h-4zM465 427h6v1h-6zM151 428h4v1h-4zM459 428h6v1h-6zM155 429h3v1h-3zM455 429h4v1h-4zM158 430h3v1h-3zM451 430h4v1h-4zM161 431h2v1h-2zM447 431h4v1h-4zM163 432h4v1h-4zM443 432h4v1h-4zM167 433h4v1h-4zM439 433h4v1h-4zM171 434h3v1h-3zM435 434h4v1h-4zM174 435h3v1h-3zM431 435h4v1h-4zM177 436h2v1h-2zM427 436h4v1h-4zM179 437h3v1h-3zM425 437h2v1h-2zM182 438h3v1h-3zM422 438h3v1h-3zM185 439h2v1h-2zM419 439h3v1h-3zM187 440h4v1h-4zM417 440h2v1h-2zM191 441h4v1h-4zM414 441h3v1h-3zM195 442h4v1h-4zM411 442h3v1h-3zM199 443h4v1h-4zM409 443h2v1h-2zM203 444h4v1h-4zM406 444h3v1h-3zM207 445h4v1h-4zM403 445h3v1h-3zM211 446h6v1h-6zM401 446h2v1h-2zM217 447h6v1h-6zM398 447h3v1h-3zM223 448h4v1h-4zM395 448h3v1h-3zM227 449h6v1h-6zM393 449h2v1h-2zM233 450h6v1h-6zM390 450h3v1h-3zM239 451h4v1h-4zM387 451h3v1h-3zM243 452h4v1h-4zM383 452h4v1h-4zM247 453h4v1h-4zM379 453h4v1h-4zM251 454h6v1h-6zM375 454h4v1h-4zM257 455h8v1h-8zM369 455h6v1h-6zM265 456h6v1h-6zM363 456h6v1h-6zM271 457h4v1h-4zM359 457h4v1h-4zM275 458h14v1h-14zM345 458h14v1h-14zM289 459h56v1h-56z" fill="#0000cd"/>
<path d="M716 100h3v1h-3zM716 101h1v1h-1zM719 101h4v1h-4zM715 102h1v1h-1zM723 102h2v1h-2zM715 103h1v1h-1zM725 103h1v1h-1zM714 104h1v1h-1zM726 104h1v1h-1zM714 105h1v1h-1zM727 105h2v1h-2zM713 106h1v1h-1zM729 106h1v1h-1zM713 107h1v1h-1zM730 107h1v1h-1zM712 108h1v1h-1zM731 108h1v1h-1zM712 109h1v1h-1zM732 109h1v1h-1zM712 110h1v1h-1zM732 110h1v1h-1zM711 111h1v1h-1zM733 111h1v1h-1zM711 112h1v1h-1zM733 112h1v1h-1zM710 113h1v1h-1zM734 113h1v1h-1zM710 114h1v1h-1zM734 114h1v1h-1zM709 115h1v1h-1zM735 115h1v1h-1zM709 116h1v1h-1zM735 116h1v1h-1zM708 117h1v1h-1zM736 117h1v1h-1zM708 118h1v1h-1zM736 118h1v1h-1zM708 119h1v1h-1zM737 119h1v1h-1zM707 120h1v1h-1zM737 120h1v1h-1zM707 121h1v1h-1zM738 121h1v1h-1zM707 122h1v1h-1zM738 122h1v1h-1zM706 123h1v1h-1zM739 123h1v1h-1zM706 124h1v1h-1zM739 124h1v1h-1zM706 125h1v1h-1zM740 125h1v1h-1zM705 126h1v1h-1zM740 126h1v1h-1zM705 127h1v1h-1zM741 127h1v1h-1zM705 128h1v1h-1zM741 128h1v1h-1zM704 129h1v1h-1zM742 129h1v1h-1zM704 130h1v1h-1zM742 130h1v1h-1zM704 131h1v1h-1zM743 131h1v1h-1zM703 132h1v1h-1zM743 132h1v1h-1zM703 133h1v1h-1zM744 133h1v1h-1zM703 134h1v1h-1zM744 134h1v1h-1zM702 135h1v1h-1zM745 135h1v1h-1zM702 136h1v1h-1zM745 136h1v1h-1zM702 137h1v1h-1zM746 137h1v1h-1zM701 138h1v1h-1zM746 138h1v1h-1zM701 139h1v1h-1zM747 139h1v1h-1zM701 140h1v1h-1zM747 140h1v1h-1zM700 141h1v1h-1zM748 141h1v1h-1zM700 142h1v1h-1zM748 142h1v1h-1zM700 143h1v1h-1zM748 143h1v1h-1zM699 144h1v1h-1zM749 144h1v1h-1zM699 145h1v1h-1zM749 145h1v1h-1zM699 146h1v1h-1zM749 146h1v1h-1zM698 147h1v1h-1zM749 147h1v1h-1zM698 148h1v1h-1zM750 148h1v1h-1zM697 149h1v1h-1zM750 149h1v1h-1zM697 150h1v1h-1zM750 150h1v1h-1zM697 151h1v1h-1zM750 151h1v1h-1zM696 152h1v1h-1zM751 152h1v1h-1zM696 153h1v1h-1zM751 153h1v1h-1zM696 154h1v1h-1zM751 154h1v1h-1zM695 155h1v1h-1zM751 155h1v1h-1zM695 156h1v1h-1zM752 156h1v1h-1zM695 157h1v1h-1zM752 157h1v1h-1zM694 158h1v1h-1zM752 158h1v1h-1zM694 159h1v1h-1zM753 159h1v1h-1zM693 160h1v1h-1zM753 160h1v1h-1zM693 161h1v1h-1zM753 161h1v1h-1zM693 162h1v1h-1zM753 162h1v1h-1zM692 163h1v1h-1zM754 163h1v1h-1zM692 164h1v1h-1zM754 164h1v1h-1zM692 165h1v1h-1zM754 165h1v1h-1zM691 166h1v1h-1zM754 166h1v1h-1zM691 167h1v1h-1zM755 167h1v1h-1zM691 168h1v1h-1zM755 168h1v1h-1zM690 169h1v1h-1zM755 169h1v1h-1zM690 170h1v1h-1zM755 170h1v1h-1zM690 171h1v1h-1zM756 171h1v1h-1zM690 172h1v1h-1zM756 172h1v1h-1zM689 173h1v1h-1zM756 173h1v1h-1zM689 174h1v1h-1zM757 174h1v1h-1zM689 175h1v1h-1zM757 175h1v1h-1zM688 176h1v1h-1zM758 176h1v1h-1zM688 177h1v1h-1zM758 177h1v1h-1zM688 178h1v1h-1zM759 178h1v1h-1zM687 179h1v1h-1zM759 179h1v1h-1zM687 180h1v1h-1zM760 180h1v1h-1zM801 180h12v1h-12zM687 181h1v1h-1zM760 181h1v1h-1zM796 181h5v1h-5zM813 181h1v1h-1zM686 182h1v1h-1zM761 182h1v1h-1zM795 182h1v1h-1zM814 182h1v1h-1zM686 183h1v1h-1zM761 183h1v1h-1zM794 183h1v1h-1zM814 183h1v1h-1zM686 184h1v1h-1zM762 184h1v1h-1zM793 184h1v1h-1zM815 184h1v1h-1zM686 185h1v1h-1zM762 185h1v1h-1zM792 185h1v1h-1zM816 185h1v1h-1zM685 186h1v1h-1zM763 186h1v1h-1zM792 186h1v1h-1zM817 186h1v1h-1zM685 187h1v1h-1zM763 187h1v1h-1zM791 187h1v1h-1zM818 187h1v1h-1zM685 188h1v1h-1zM764 188h1v1h-1zM790 188h1v1h-1zM818 188h1v1h-1zM684 189h1v1h-1zM765 189h1v1h-1zM789 189h1v1h-1zM819 189h1v1h-1zM684 190h1v1h-1zM765 190h1v1h-1zM787 190h2v1h-2zM820 190h1v1h-1zM684 191h1v1h-1zM766 191h1v1h-1zM785 191h2v1h-2zM821 191h1v1h-1zM945 191h4v1h-4zM683 192h1v1h-1zM767 192h1v1h-1zM782 192h3v1h-3zM822 192h1v1h-1zM940 192h5v1h-5zM949 192h2v1h-2zM683 193h1v1h-1zM768 193h1v1h-1zM780 193h2v1h-2zM823 193h2v1h-2zM938 193h2v1h-2zM951 193h1v1h-1zM683 194h1v1h-1zM768 194h1v1h-1zM779 194h1v1h-1zM825 194h1v1h-1zM936 194h2v1h-2zM952 194h1v1h-1zM683 195h1v1h-1zM769 195h1v1h-1zM777 195h2v1h-2zM826 195h1v1h-1zM916 195h5v1h-5zM934 195h2v1h-2zM953 195h2v1h-2zM682 196h1v1h-1zM770 196h1v1h-1zM776 196h1v1h-1zM827 196h1v1h-1zM915 196h1v1h-1zM921 196h13v1h-13zM955 196h1v1h-1zM682 197h1v1h-1zM771 197h1v1h-1zM775 197h1v1h-1zM828 197h1v1h-1zM913 197h2v1h-2zM956 197h1v1h-1zM682 198h1v1h-1zM771 198h1v1h-1zM773 198h2v1h-2zM829 198h1v1h-1zM912 198h1v1h-1zM957 198h1v1h-1zM1020 198h1v1h-1zM682 199h1v1h-1zM772 199h1v1h-1zM830 199h1v1h-1zM911 199h1v1h-1zM958 199h1v1h-1zM1019 199h1v1h-1zM1021 199h2v1h-2zM1092 199h3v1h-3zM681 200h1v1h-1zM831 200h1v1h-1zM909 200h2v1h-2zM959 200h1v1h-1zM1018 200h1v1h-1zM1023 200h2v1h-2zM1090 200h2v1h-2zM1095 200h4v1h-4zM681 201h1v1h-1zM832 201h1v1h-1zM908 201h1v1h-1zM960 201h1v1h-1zM1018 201h1v1h-1zM1025 201h1v1h-1zM1088 201h2v1h-2zM1099 201h2v1h-2zM681 202h1v1h-1zM833 202h1v1h-1zM907 202h1v1h-1zM961 202h1v1h-1zM1017 202h1v1h-1zM1026 202h2v1h-2zM1086 202h2v1h-2zM1101 202h1v1h-1zM681 203h1v1h-1zM834 203h1v1h-1zM906 203h1v1h-1zM962 203h1v1h-1zM1016 203h1v1h-1zM1028 203h1v1h-1zM1084 203h2v1h-2zM1102 203h1v1h-1zM680 204h1v1h-1zM835 204h1v1h-1zM905 204h1v1h-1zM963 204h1v1h-1zM1015 204h1v1h-1zM1029 204h1v1h-1zM1083 204h1v1h-1zM1102 204h1v1h-1zM680 205h1v1h-1zM836 205h1v1h-1zM904 205h1v1h-1zM964 205h1v1h-1zM1014 205h1v1h-1zM1030 205h1v1h-1zM1082 205h1v1h-1zM1103 205h1v1h-1zM680 206h1v1h-1zM837 206h1v1h-1zM903 206h1v1h-1zM965 206h2v1h-2zM1014 206h1v1h-1zM1031 206h1v1h-1zM1081 206h1v1h-1zM1104 206h1v1h-1zM679 207h1v1h-1zM838 207h1v1h-1zM902 207h1v1h-1zM967 207h2v1h-2zM1013 207h1v1h-1zM1032 207h1v1h-1zM1080 207h1v1h-1zM1105 207h1v1h-1zM679 208h1v1h-1zM838 208h1v1h-1zM901 208h1v1h-1zM969 208h1v1h-1zM1012 208h1v1h-1zM1032 208h1v1h-1zM1080 208h1v1h-1zM1106 208h1v1h-1zM679 209h1v1h-1zM839 209h1v1h-1zM899 209h2v1h-2zM970 209h2v1h-2zM1010 209h2v1h-2zM1033 209h1v1h-1zM1079 209h1v1h-1zM1106 209h1v1h-1zM679 210h1v1h-1zM840 210h1v1h-1zM895 210h4v1h-4zM972 210h1v1h-1zM1009 210h1v1h-1zM1034 210h1v1h-1zM1078 210h1v1h-1zM1107 210h1v1h-1zM678 211h1v1h-1zM841 211h1v1h-1zM892 211h3v1h-3zM973 211h1v1h-1zM1007 211h2v1h-2zM1035 211h1v1h-1zM1077 211h1v1h-1zM1108 211h1v1h-1zM678 212h1v1h-1zM842 212h1v1h-1zM890 212h2v1h-2zM974 212h1v1h-1zM1005 212h2v1h-2zM1036 212h1v1h-1zM1076 212h1v1h-1zM1109 212h1v1h-1zM678 213h1v1h-1zM842 213h1v1h-1zM889 213h1v1h-1zM975 213h1v1h-1zM1004 213h1v1h-1zM1037 213h1v1h-1zM1075 213h1v1h-1zM1110 213h1v1h-1zM678 214h1v1h-1zM843 214h1v1h-1zM887 214h2v1h-2zM976 214h1v1h-1zM1002 214h2v1h-2zM1038 214h1v1h-1zM1074 214h1v1h-1zM1111 214h1v1h-1zM677 215h1v1h-1zM844 215h1v1h-1zM885 215h2v1h-2zM976 215h1v1h-1zM1001 215h1v1h-1zM1039 215h2v1h-2zM1073 215h1v1h-1zM1112 215h1v1h-1zM677 216h1v1h-1zM845 216h1v1h-1zM884 216h1v1h-1zM977 216h1v1h-1zM999 216h2v1h-2zM1041 216h1v1h-1zM1072 216h1v1h-1zM1112 216h1v1h-1zM677 217h1v1h-1zM846 217h1v1h-1zM883 217h1v1h-1zM978 217h1v1h-1zM997 217h2v1h-2zM1042 217h1v1h-1zM1072 217h1v1h-1zM1113 217h1v1h-1zM677 218h1v1h-1zM847 218h1v1h-1zM882 218h1v1h-1zM979 218h1v1h-1zM995 218h2v1h-2zM1043 218h1v1h-1zM1071 218h1v1h-1zM1114 218h1v1h-1zM676 219h1v1h-1zM848 219h1v1h-1zM881 219h1v1h-1zM980 219h5v1h-5zM991 219h4v1h-4zM1044 219h5v1h-5zM1070 219h1v1h-1zM1115 219h1v1h-1zM676 220h1v1h-1zM849 220h1v1h-1zM880 220h1v1h-1zM985 220h6v1h-6zM1049 220h4v1h-4zM1069 220h1v1h-1zM1116 220h1v1h-1zM676 221h1v1h-1zM850 221h1v1h-1zM880 221h1v1h-1zM1053 221h2v1h-2zM1068 221h1v1h-1zM1117 221h1v1h-1zM675 222h1v1h-1zM851 222h1v1h-1zM879 222h1v1h-1zM1055 222h1v1h-1zM1066 222h2v1h-2zM1118 222h1v1h-1zM675 223h1v1h-1zM852 223h2v1h-2zM878 223h1v1h-1zM1056 223h1v1h-1zM1065 223h1v1h-1zM1119 223h1v1h-1zM675 224h1v1h-1zM854 224h3v1h-3zM877 224h1v1h-1zM1057 224h2v1h-2zM1063 224h2v1h-2zM1120 224h1v1h-1zM674 225h1v1h-1zM857 225h2v1h-2zM876 225h1v1h-1zM1059 225h1v1h-1zM1061 225h2v1h-2zM1121 225h1v1h-1zM674 226h1v1h-1zM859 226h3v1h-3zM874 226h2v1h-2zM1060 226h1v1h-1zM1122 226h1v1h-1zM673 227h1v1h-1zM862 227h2v1h-2zM873 227h1v1h-1zM1123 227h1v1h-1zM1148 227h2v1h-2zM673 228h1v1h-1zM864 228h2v1h-2zM871 228h2v1h-2zM1124 228h2v1h-2zM1146 228h2v1h-2zM1150 228h3v1h-3zM673 229h1v1h-1zM866 229h2v1h-2zM869 229h2v1h-2zM1126 229h2v1h-2zM1145 229h1v1h-1zM1153 229h2v1h-2zM672 230h1v1h-1zM868 230h1v1h-1zM1128 230h2v1h-2zM1143 230h2v1h-2zM1155 230h2v1h-2zM672 231h1v1h-1zM1130 231h2v1h-2zM1141 231h2v1h-2zM1157 231h1v1h-1zM672 232h1v1h-1zM1132 232h9v1h-9zM1158 232h1v1h-1zM671 233h1v1h-1zM1158 233h1v1h-1zM671 234h1v1h-1zM1159 234h1v1h-1zM671 235h1v1h-1zM1160 235h1v1h-1zM670 236h1v1h-1zM1161 236h1v1h-1zM670 237h1v1h-1zM1162 237h1v1h-1zM669 238h1v1h-1zM1162 238h1v1h-1zM669 239h1v1h-1zM1163 239h1v1h-1zM669 240h1v1h-1zM1164 240h1v1h-1zM668 241h1v1h-1zM1165 241h1v1h-1zM668 242h1v1h-1zM1165 242h1v1h-1zM667 243h1v1h-1zM1166 243h1v1h-1zM667 244h1v1h-1zM1166 244h1v1h-1zM666 245h1v1h-1zM1167 245h1v1h-1zM666 246h1v1h-1zM1168 246h1v1h-1zM665 247h1v1h-1zM1168 247h1v1h-1zM664 248h1v1h-1zM1169 248h1v1h-1zM664 249h1v1h-1zM1170 249h1v1h-1zM663 250h1v1h-1zM1170 250h1v1h-1zM662 251h1v1h-1zM1171 251h1v1h-1zM662 252h1v1h-1zM1171 252h1v1h-1zM661 253h1v1h-1zM1172 253h1v1h-1zM661 254h1v1h-1zM660 255h1v1h-1zM660 256h1v1h-1zM659 257h1v1h-1zM659 258h1v1h-1zM658 259h1v1h-1zM658 260h1v1h-1zM658 261h1v1h-1zM657 262h1v1h-1zM657 263h1v1h-1zM657 264h1v1h-1zM656 265h1v1h-1zM656 266h1v1h-1zM655 267h1v1h-1zM655 268h1v1h-1zM655 269h1v1h-1zM654 270h1v1h-1zM654 271h1v1h-1zM654 272h1v1h-1zM653 273h1v1h-1zM653 274h1v1h-1zM652 275h1v1h-1zM652 276h1v1h-1zM652 277h1v1h-1zM651 278h1v1h-1zM651 279h1v1h-1zM651 280h1v1h-1zM650 281h1v1h-1zM650 282h1v1h-1zM650 283h1v1h-1zM650 284h1v1h-1zM649 285h1v1h-1zM649 286h1v1h-1zM649 287h1v1h-1zM648 288h1v1h-1zM648 289h1v1h-1zM648 290h1v1h-1zM647 291h1v1h-1zM647 292h1v1h-1zM647 293h1v1h-1zM646 294h1v1h-1zM646 295h1v1h-1zM646 296h1v1h-1zM646 297h1v1h-1zM645 298h1v1h-1zM645 299h1v1h-1zM645 300h1v1h-1zM644 301h1v1h-1zM644 302h1v1h-1zM644 303h1v1h-1zM643 304h1v1h-1zM643 305h1v1h-1zM643 306h1v1h-1zM642 307h1v1h-1zM642 308h1v1h-1zM642 309h1v1h-1zM642 310h1v1h-1zM641 311h1v1h-1zM641 312h1v1h-1zM641 313h1v1h-1zM640 314h1v1h-1zM640 315h1v1h-1zM640 316h1v1h-1zM639 317h1v1h-1zM639 318h1v1h-1zM639 319h1v1h-1zM638 320h1v1h-1zM638 321h1v1h-1zM638 322h1v1h-1zM638 323h1v1h-1zM637 324h1v1h-1zM637 325h1v1h-1zM637 326h1v1h-1zM636 327h1v1h-1zM636 328h1v1h-1zM636 329h1v1h-1zM635 330h1v1h-1zM635 331h1v1h-1zM634 332h1v1h-1zM634 333h1v1h-1zM633 334h1v1h-1zM633 335h1v1h-1zM633 336h1v1h-1zM632 337h1v1h-1zM632 338h1v1h-1zM631 339h1v1h-1zM631 340h1v1h-1zM631 341h1v1h-1zM630 342h1v1h-1zM630 343h1v1h-1zM629 344h1v1h-1zM629 345h1v1h-1zM628 346h1v1h-1zM628 347h1v1h-1zM628 348h1v1h-1zM627 349h1v1h-1zM627 350h1v1h-1zM626 351h1v1h-1zM626 352h1v1h-1zM625 353h1v1h-1zM625 354h1v1h-1zM624 355h1v1h-1zM624 356h1v1h-1zM624 357h1v1h-1zM623 358h1v1h-1zM623 359h1v1h-1zM622 360h1v1h-1zM622 361h1v1h-1zM621 362h1v1h-1zM621 363h1v1h-1zM620 364h1v1h-1zM620 365h1v1h-1zM619 366h1v1h-1zM618 367h1v1h-1zM617 368h1v1h-1zM616 369h1v1h-1zM616 370h1v1h-1zM615 371h1v1h-1zM614 372h1v1h-1zM613 373h1v1h-1zM611 374h2v1h-2zM607 375h4v1h-4zM587 376h20v1h-20zM583 377h4v1h-4zM579 378h4v1h-4zM575 379h4v1h-4zM572 380h3v1h-3zM570 381h2v1h-2zM569 382h1v1h-1zM567 383h2v1h-2zM565 384h2v1h-2zM564 385h1v1h-1zM563 386h1v1h-1zM562 387h1v1h-1zM561 388h1v1h-1zM560 389h1v1h-1zM559 390h1v1h-1zM558 391h1v1h-1zM557 392h1v1h-1zM556 393h1v1h-1zM555 394h1v1h-1zM554 395h1v1h-1zM553 396h1v1h-1zM552 397h1v1h-1zM425 398h14v1h-14zM552 398h1v1h-1zM419 399h6v1h-6zM439 399h4v1h-4zM551 399h1v1h-1zM417 400h2v1h-2zM443 400h3v1h-3zM550 400h1v1h-1zM414 401h3v1h-3zM446 401h3v1h-3zM549 401h1v1h-1zM411 402h3v1h-3zM449 402h2v1h-2zM548 402h1v1h-1zM409 403h2v1h-2zM451 403h4v1h-4zM547 403h1v1h-1zM406 404h3v1h-3zM455 404h4v1h-4zM546 404h1v1h-1zM404 405h2v1h-2zM459 405h3v1h-3zM545 405h1v1h-1zM402 406h2v1h-2zM462 406h3v1h-3zM543 406h2v1h-2zM400 407h2v1h-2zM465 407h2v1h-2zM542 407h1v1h-1zM398 408h2v1h-2zM467 408h4v1h-4zM541 408h1v1h-1zM396 409h2v1h-2zM471 409h4v1h-4zM540 409h1v1h-1zM394 410h2v1h-2zM475 410h6v1h-6zM538 410h2v1h-2zM392 411h2v1h-2zM481 411h8v1h-8zM536 411h2v1h-2zM390 412h2v1h-2zM489 412h8v1h-8zM534 412h2v1h-2zM387 413h3v1h-3zM497 413h6v1h-6zM531 413h3v1h-3zM12 414h2v1h-2zM385 414h2v1h-2zM503 414h4v1h-4zM527 414h4v1h-4zM10 415h2v1h-2zM14 415h2v1h-2zM382 415h3v1h-3zM507 415h6v1h-6zM521 415h6v1h-6zM8 416h2v1h-2zM16 416h2v1h-2zM380 416h2v1h-2zM513 416h8v1h-8zM6 417h2v1h-2zM18 417h2v1h-2zM378 417h2v1h-2zM4 418h2v1h-2zM20 418h2v1h-2zM376 418h2v1h-2zM22 419h3v1h-3zM374 419h2v1h-2zM25 420h2v1h-2zM372 420h2v1h-2zM27 421h4v1h-4zM370 421h2v1h-2zM31 422h4v1h-4zM368 422h2v1h-2zM35 423h3v1h-3zM366 423h2v1h-2zM38 424h3v1h-3zM364 424h2v1h-2zM41 425h2v1h-2zM362 425h2v1h-2zM43 426h3v1h-3zM360 426h2v1h-2zM46 427h2v1h-2zM358 427h2v1h-2zM48 428h2v1h-2zM356 428h2v1h-2zM50 429h2v1h-2zM354 429h2v1h-2zM52 430h2v1h-2zM352 430h2v1h-2zM54 431h2v1h-2zM350 431h2v1h-2zM56 432h2v1h-2zM347 432h3v1h-3zM58 433h2v1h-2zM345 433h2v1h-2zM60 434h2v1h-2zM105 434h6v1h-6zM342 434h3v1h-3zM62 435h2v1h-2zM97 435h8v1h-8zM111 435h4v1h-4zM340 435h2v1h-2zM64 436h2v1h-2zM91 436h6v1h-6zM115 436h2v1h-2zM338 436h2v1h-2zM66 437h2v1h-2zM87 437h4v1h-4zM117 437h2v1h-2zM336 437h2v1h-2zM68 438h5v1h-5zM81 438h6v1h-6zM119 438h2v1h-2zM334 438h2v1h-2zM73 439h8v1h-8zM121 439h1v1h-1zM332 439h2v1h-2zM122 440h2v1h-2zM331 440h1v1h-1zM124 441h2v1h-2zM329 441h2v1h-2zM126 442h2v1h-2zM328 442h1v1h-1zM128 443h2v1h-2zM327 443h1v1h-1zM130 444h2v1h-2zM325 444h2v1h-2zM132 445h1v1h-1zM324 445h1v1h-1zM133 446h2v1h-2zM322 446h2v1h-2zM135 447h2v1h-2zM320 447h2v1h-2zM137 448h1v1h-1zM318 448h2v1h-2zM138 449h2v1h-2zM316 449h2v1h-2zM140 450h1v1h-1zM314 450h2v1h-2zM141 451h1v1h-1zM312 451h2v1h-2zM142 452h1v1h-1zM310 452h2v1h-2zM143 453h1v1h-1zM308 453h2v1h-2zM144 454h1v1h-1zM306 454h2v1h-2zM145 455h1v1h-1zM305 455h1v1h-1zM146 456h1v1h-1zM303 456h2v1h-2zM147 457h1v1h-1zM301 457h2v1h-2zM148 458h1v1h-1zM299 458h2v1h-2zM149 459h1v1h-1zM243 459h3v1h-3zM297 459h2v1h-2zM150 460h1v1h-1zM239 460h4v1h-4zM246 460h3v1h-3zM275 460h4v1h-4zM294 460h3v1h-3zM151 461h1v1h-1zM235 461h4v1h-4zM249 461h2v1h-2zM271 461h4v1h-4zM279 461h4v1h-4zM289 461h5v1h-5zM152 462h1v1h-1zM231 462h4v1h-4zM251 462h20v1h-20zM283 462h6v1h-6zM153 463h1v1h-1zM228 463h3v1h-3zM154 464h1v1h-1zM226 464h2v1h-2zM155 465h1v1h-1zM224 465h2v1h-2zM156 466h1v1h-1zM222 466h2v1h-2zM157 467h1v1h-1zM219 467h3v1h-3zM158 468h1v1h-1zM217 468h2v1h-2zM159 469h2v1h-2zM214 469h3v1h-3zM161 470h1v1h-1zM212 470h2v1h-2zM162 471h1v1h-1zM211 471h1v1h-1zM163 472h1v1h-1zM209 472h2v1h-2zM164 473h2v1h-2zM208 473h1v1h-1zM166 474h2v1h-2zM207 474h1v1h-1zM168 475h2v1h-2zM205 475h2v1h-2zM170 476h2v1h-2zM203 476h2v1h-2zM172 477h2v1h-2zM201 477h2v1h-2zM174 478h3v1h-3zM198 478h3v1h-3zM177 479h2v1h-2zM195 479h3v1h-3zM179 480h6v1h-6zM191 480h4v1h-4zM185 481h6v1h-6z" fill="#ffa500"/>
</g>
<rect x="4" y="47" width="1484" height="2" fill="#ff0000"/>
<rect x="4" y="121" width="1484" height="2" fill="#ff0000"/>
<rect x="4" y="192" width="1484" height="2" fill="#00ff00"/>
<rect x="4" y="258" width="1484" height="2" fill="#0000ff"/>
<rect x="4" y="320" width="1484" height="2" fill="#0000ff"/>
<rect x="4" y="397" width="1484" height="2" fill="#0000ff"/>
<rect x="3" y="45" width="6" height="6" fill="#ff0000"/>
<rect x="5" y="47" width="2" height="2" fill="#fff"/>
<rect x="1482" y="45" width="6" height="6" fill="#ff0000"/>
<rect x="1484" y="47" width="2" height="2" fill="#fff"/>
<rect x="1490" y="42" width="40" height="11" fill="#ff0000"/>
<rect x="3" y="119" width="6" height="6" fill="#ff0000"/>
<rect x="5" y="121" width="2" height="2" fill="#fff"/>
<rect x="1482" y="119" width="6" height="6" fill="#ff0000"/>
<rect x="1484" y="121" width="2" height="2" fill="#fff"/>
<rect x="1490" y="116" width="40" height="11" fill="#ff0000"/>
<rect x="3" y="190" width="6" height="6" fill="#00ff00"/>
<rect x="5" y="192" width="2" height="2" fill="#fff"/>
<rect x="1482" y="190" width="6" height="6" fill="#00ff00"/>
<rect x="1484" y="192" width="2" height="2" fill="#fff"/>
<rect x="1490" y="187" width="40" height="11" fill="#00ff00"/>
<rect x="3" y="256" width="6" height="6" fill="#0000ff"/>
<rect x="5" y="258" width="2" height="2" fill="#fff"/>
<rect x="1482" y="256" width="6" height="6" fill="#0000ff"/>
<rect x="1484" y="258" width="2" height="2" fill="#fff"/>
<rect x="1490" y="253" width="40" height="11" fill="#0000ff"/>
<rect x="3" y="318" width="6" height="6" fill="#0000ff"/>
<rect x="5" y="320" width="2" height="2" fill="#fff"/>
<rect x="1482" y="318" width="6" height="6" fill="#0000ff"/>
<rect x="1484" y="320" width="2" height="2" fill="#fff"/>
<rect x="1490" y="315" width="40" height="11" fill="#0000ff"/>
<rect x="3" y="395" width="6" height="6" fill="#0000ff"/>
<rect x="5" y="397" width="2" height="2" fill="#fff"/>
<rect x="1482" y="395" width="6" height="6" fill="#0000ff"/>
<rect x="1484" y="397" width="2" height="2" fill="#fff"/>
<rect x="1490" y="392" width="40" height="11" fill="#0000ff"/>
<rect x="1489" y="35" width="2" height="1" fill="#000"/>
<text x="1494" y="39" font-size="9.5" fill="#000" textLength="33.6" lengthAdjust="spacingAndGlyphs" class="s">1.47165</text>
<rect x="1489" y="68" width="2" height="1" fill="#000"/>
<text x="1494" y="72" font-size="9.5" fill="#000" textLength="33.6" lengthAdjust="spacingAndGlyphs" class="s">1.45870</text>
<rect x="1489" y="101" width="2" height="1" fill="#000"/>
<text x="1494" y="105" font-size="9.5" fill="#000" textLength="33.6" lengthAdjust="spacingAndGlyphs" class="s">1.44575</text>
<rect x="1489" y="134" width="2" height="1" fill="#000"/>
<text x="1494" y="138" font-size="9.5" fill="#000" textLength="33.6" lengthAdjust="spacingAndGlyphs" class="s">1.43315</text>
<rect x="1489" y="167" width="2" height="1" fill="#000"/>
<text x="1494" y="171" font-size="9.5" fill="#000" textLength="33.6" lengthAdjust="spacingAndGlyphs" class="s">1.42020</text>
<rect x="1489" y="200" width="2" height="1" fill="#000"/>
<text x="1494" y="204" font-size="9.5" fill="#000" textLength="33.6" lengthAdjust="spacingAndGlyphs" class="s">1.40725</text>
<rect x="1489" y="233" width="2" height="1" fill="#000"/>
<text x="1494" y="237" font-size="9.5" fill="#000" textLength="33.6" lengthAdjust="spacingAndGlyphs" class="s">1.39430</text>
<rect x="1489" y="266" width="2" height="1" fill="#000"/>
<text x="1494" y="270" font-size="9.5" fill="#000" textLength="33.6" lengthAdjust="spacingAndGlyphs" class="s">1.38170</text>
<rect x="1489" y="299" width="2" height="1" fill="#000"/>
<text x="1494" y="303" font-size="9.5" fill="#000" textLength="33.6" lengthAdjust="spacingAndGlyphs" class="s">1.36875</text>
<rect x="1489" y="332" width="2" height="1" fill="#000"/>
<text x="1494" y="336" font-size="9.5" fill="#000" textLength="33.6" lengthAdjust="spacingAndGlyphs" class="s">1.35580</text>
<rect x="1489" y="365" width="2" height="1" fill="#000"/>
<text x="1494" y="369" font-size="9.5" fill="#000" textLength="33.6" lengthAdjust="spacingAndGlyphs" class="s">1.34320</text>
<rect x="1489" y="398" width="2" height="1" fill="#000"/>
<text x="1494" y="402" font-size="9.5" fill="#000" textLength="33.6" lengthAdjust="spacingAndGlyphs" class="s">1.33025</text>
<rect x="1489" y="431" width="2" height="1" fill="#000"/>
<text x="1494" y="435" font-size="9.5" fill="#000" textLength="33.6" lengthAdjust="spacingAndGlyphs" class="s">1.31730</text>
<rect x="1489" y="464" width="2" height="1" fill="#000"/>
<text x="1494" y="468" font-size="9.5" fill="#000" textLength="33.6" lengthAdjust="spacingAndGlyphs" class="s">1.30435</text>
<rect x="1489" y="497" width="2" height="1" fill="#000"/>
<text x="1494" y="501" font-size="9.5" fill="#000" textLength="33.6" lengthAdjust="spacingAndGlyphs" class="s">1.29175</text>
<rect x="1490" y="42" width="40" height="11" fill="#ff0000"/>
<text x="1494.4" y="51" font-size="9.5" fill="#fff" textLength="32.6" lengthAdjust="spacingAndGlyphs" class="s">1.46651</text>
<rect x="1490" y="116" width="40" height="11" fill="#ff0000"/>
<text x="1494.4" y="125" font-size="9.5" fill="#fff" textLength="32.6" lengthAdjust="spacingAndGlyphs" class="s">1.43780</text>
<rect x="1490" y="187" width="40" height="11" fill="#00ff00"/>
<text x="1494.4" y="196" font-size="9.5" fill="#fff" textLength="32.6" lengthAdjust="spacingAndGlyphs" class="s">1.41000</text>
<rect x="1490" y="253" width="40" height="11" fill="#0000ff"/>
<text x="1494.4" y="262" font-size="9.5" fill="#fff" textLength="32.6" lengthAdjust="spacingAndGlyphs" class="s">1.38447</text>
<rect x="1490" y="315" width="40" height="11" fill="#0000ff"/>
<text x="1494.4" y="324" font-size="9.5" fill="#fff" textLength="32.6" lengthAdjust="spacingAndGlyphs" class="s">1.36029</text>
<rect x="1490" y="392" width="40" height="11" fill="#0000ff"/>
<text x="1494.4" y="401" font-size="9.5" fill="#fff" textLength="32.6" lengthAdjust="spacingAndGlyphs" class="s">1.33026</text>
<rect x="1490" y="279" width="40" height="11" fill="#000"/>
<text x="1494.4" y="288" font-size="9.5" fill="#fff" textLength="32.6" lengthAdjust="spacingAndGlyphs" class="s">1.37464</text>
<path d="M7 31h7l-3.5 4z" fill="#000"/>
<text x="19.2" y="36" font-size="9.5" fill="#000" textLength="65.6" lengthAdjust="spacingAndGlyphs" class="s">USDCAD,Daily</text>
<text x="91.2" y="36" font-size="9.5" fill="#000" textLength="32.6" lengthAdjust="spacingAndGlyphs" class="s">1.37871</text>
<text x="127.4" y="36" font-size="9.5" fill="#000" textLength="32.6" lengthAdjust="spacingAndGlyphs" class="s">1.37965</text>
<text x="163.7" y="36" font-size="9.5" fill="#000" textLength="32.6" lengthAdjust="spacingAndGlyphs" class="s">1.37454</text>
<text x="199.4" y="36" font-size="9.5" fill="#000" textLength="32.6" lengthAdjust="spacingAndGlyphs" class="s">1.37464</text>
<path d="M1185 25h9l-4.5 5z" fill="#c0c0c0"/>
<rect x="5" y="529" width="3" height="1" fill="#c0c0c0"/>
<rect x="11" y="529" width="3" height="1" fill="#c0c0c0"/>
<rect x="17" y="529" width="3" height="1" fill="#c0c0c0"/>
<rect x="23" y="529" width="3" height="1" fill="#c0c0c0"/>
<rect x="29" y="529" width="3" height="1" fill="#c0c0c0"/>
<rect x="35" y="529" width="3" height="1" fill="#c0c0c0"/>
<rect x="41" y="529" width="3" height="1" fill="#c0c0c0"/>
<rect x="47" y="529" width="3" height="1" fill="#c0c0c0"/>
<rect x="53" y="529" width="3" height="1" fill="#c0c0c0"/>
<rect x="59" y="529" width="3" height="1" fill="#c0c0c0"/>
<rect x="65" y="529" width="3" height="1" fill="#c0c0c0"/>
<rect x="71" y="529" width="3" height="1" fill="#c0c0c0"/>
<rect x="77" y="529" width="3" height="1" fill="#c0c0c0"/>
<rect x="83" y="529" width="3" height="1" fill="#c0c0c0"/>
<rect x="89" y="529" width="3" height="1" fill="#c0c0c0"/>
<rect x="95" y="529" width="3" height="1" fill="#c0c0c0"/>
<rect x="101" y="529" width="3" height="1" fill="#c0c0c0"/>
<rect x="107" y="529" width="3" height="1" fill="#c0c0c0"/>
<rect x="113" y="529" width="3" height="1" fill="#c0c0c0"/>
<rect x="119" y="529" width="3" height="1" fill="#c0c0c0"/>
<rect x="125" y="529" width="3" height="1" fill="#c0c0c0"/>
<rect x="131" y="529" width="3" height="1" fill="#c0c0c0"/>
<rect x="137" y="529" width="3" height="1" fill="#c0c0c0"/>
<rect x="143" y="529" width="3" height="1" fill="#c0c0c0"/>
<rect x="149" y="529" width="3" height="1" fill="#c0c0c0"/>
<rect x="155" y="529" width="3" height="1" fill="#c0c0c0"/>
<rect x="161" y="529" width="3" height="1" fill="#c0c0c0"/>
<rect x="167" y="529" width="3" height="1" fill="#c0c0c0"/>
<rect x="173" y="529" width="3" height="1" fill="#c0c0c0"/>
<rect x="179" y="529" width="3" height="1" fill="#c0c0c0"/>
<rect x="185" y="529" width="3" height="1" fill="#c0c0c0"/>
<rect x="191" y="529" width="3" height="1" fill="#c0c0c0"/>
<rect x="197" y="529" width="3" height="1" fill="#c0c0c0"/>
<rect x="203" y="529" width="3" height="1" fill="#c0c0c0"/>
<rect x="209" y="529" width="3" height="1" fill="#c0c0c0"/>
<rect x="215" y="529" width="3" height="1" fill="#c0c0c0"/>
<rect x="221" y="529" width="3" height="1" fill="#c0c0c0"/>
<rect x="227" y="529" width="3" height="1" fill="#c0c0c0"/>
<rect x="233" y="529" width="3" height="1" fill="#c0c0c0"/>
<rect x="239" y="529" width="3" height="1" fill="#c0c0c0"/>
<rect x="245" y="529" width="3" height="1" fill="#c0c0c0"/>
<rect x="251" y="529" width="3" height="1" fill="#c0c0c0"/>
<rect x="257" y="529" width="3" height="1" fill="#c0c0c0"/>
<rect x="263" y="529" width="3" height="1" fill="#c0c0c0"/>
<rect x="269" y="529" width="3" height="1" fill="#c0c0c0"/>
<rect x="275" y="529" width="3" height="1" fill="#c0c0c0"/>
<rect x="281" y="529" width="3" height="1" fill="#c0c0c0"/>
<rect x="287" y="529" width="3" height="1" fill="#c0c0c0"/>
<rect x="293" y="529" width="3" height="1" fill="#c0c0c0"/>
<rect x="299" y="529" width="3" height="1" fill="#c0c0c0"/>
<rect x="305" y="529" width="3" height="1" fill="#c0c0c0"/>
<rect x="311" y="529" width="3" height="1" fill="#c0c0c0"/>
<rect x="317" y="529" width="3" height="1" fill="#c0c0c0"/>
<rect x="323" y="529" width="3" height="1" fill="#c0c0c0"/>
<rect x="329" y="529" width="3" height="1" fill="#c0c0c0"/>
<rect x="335" y="529" width="3" height="1" fill="#c0c0c0"/>
<rect x="341" y="529" width="3" height="1" fill="#c0c0c0"/>
<rect x="347" y="529" width="3" height="1" fill="#c0c0c0"/>
<rect x="353" y="529" width="3" height="1" fill="#c0c0c0"/>
<rect x="359" y="529" width="3" height="1" fill="#c0c0c0"/>
<rect x="365" y="529" width="3" height="1" fill="#c0c0c0"/>
<rect x="371" y="529" width="3" height="1" fill="#c0c0c0"/>
<rect x="377" y="529" width="3" height="1" fill="#c0c0c0"/>
<rect x="383" y="529" width="3" height="1" fill="#c0c0c0"/>
<rect x="389" y="529" width="3" height="1" fill="#c0c0c0"/>
<rect x="395" y="529" width="3" height="1" fill="#c0c0c0"/>
<rect x="401" y="529" width="3" height="1" fill="#c0c0c0"/>
<rect x="407" y="529" width="3" height="1" fill="#c0c0c0"/>
<rect x="413" y="529" width="3" height="1" fill="#c0c0c0"/>
<rect x="419" y="529" width="3" height="1" fill="#c0c0c0"/>
<rect x="425" y="529" width="3" height="1" fill="#c0c0c0"/>
<rect x="431" y="529" width="3" height="1" fill="#c0c0c0"/>
<rect x="437" y="529" width="3" height="1" fill="#c0c0c0"/>
<rect x="443" y="529" width="3" height="1" fill="#c0c0c0"/>
<rect x="449" y="529" width="3" height="1" fill="#c0c0c0"/>
<rect x="455" y="529" width="3" height="1" fill="#c0c0c0"/>
<rect x="461" y="529" width="3" height="1" fill="#c0c0c0"/>
<rect x="467" y="529" width="3" height="1" fill="#c0c0c0"/>
<rect x="473" y="529" width="3" height="1" fill="#c0c0c0"/>
<rect x="479" y="529" width="3" height="1" fill="#c0c0c0"/>
<rect x="485" y="529" width="3" height="1" fill="#c0c0c0"/>
<rect x="491" y="529" width="3" height="1" fill="#c0c0c0"/>
<rect x="497" y="529" width="3" height="1" fill="#c0c0c0"/>
<rect x="503" y="529" width="3" height="1" fill="#c0c0c0"/>
<rect x="509" y="529" width="3" height="1" fill="#c0c0c0"/>
<rect x="515" y="529" width="3" height="1" fill="#c0c0c0"/>
<rect x="521" y="529" width="3" height="1" fill="#c0c0c0"/>
<rect x="527" y="529" width="3" height="1" fill="#c0c0c0"/>
<rect x="533" y="529" width="3" height="1" fill="#c0c0c0"/>
<rect x="539" y="529" width="3" height="1" fill="#c0c0c0"/>
<rect x="545" y="529" width="3" height="1" fill="#c0c0c0"/>
<rect x="551" y="529" width="3" height="1" fill="#c0c0c0"/>
<rect x="557" y="529" width="3" height="1" fill="#c0c0c0"/>
<rect x="563" y="529" width="3" height="1" fill="#c0c0c0"/>
<rect x="569" y="529" width="3" height="1" fill="#c0c0c0"/>
<rect x="575" y="529" width="3" height="1" fill="#c0c0c0"/>
<rect x="581" y="529" width="3" height="1" fill="#c0c0c0"/>
<rect x="587" y="529" width="3" height="1" fill="#c0c0c0"/>
<rect x="593" y="529" width="3" height="1" fill="#c0c0c0"/>
<rect x="599" y="529" width="3" height="1" fill="#c0c0c0"/>
<rect x="605" y="529" width="3" height="1" fill="#c0c0c0"/>
<rect x="611" y="529" width="3" height="1" fill="#c0c0c0"/>
<rect x="617" y="529" width="3" height="1" fill="#c0c0c0"/>
<rect x="623" y="529" width="3" height="1" fill="#c0c0c0"/>
<rect x="629" y="529" width="3" height="1" fill="#c0c0c0"/>
<rect x="635" y="529" width="3" height="1" fill="#c0c0c0"/>
<rect x="641" y="529" width="3" height="1" fill="#c0c0c0"/>
<rect x="647" y="529" width="3" height="1" fill="#c0c0c0"/>
<rect x="653" y="529" width="3" height="1" fill="#c0c0c0"/>
<rect x="659" y="529" width="3" height="1" fill="#c0c0c0"/>
<rect x="665" y="529" width="3" height="1" fill="#c0c0c0"/>
<rect x="671" y="529" width="3" height="1" fill="#c0c0c0"/>
<rect x="677" y="529" width="3" height="1" fill="#c0c0c0"/>
<rect x="683" y="529" width="3" height="1" fill="#c0c0c0"/>
<rect x="689" y="529" width="3" height="1" fill="#c0c0c0"/>
<rect x="695" y="529" width="3" height="1" fill="#c0c0c0"/>
<rect x="701" y="529" width="3" height="1" fill="#c0c0c0"/>
<rect x="707" y="529" width="3" height="1" fill="#c0c0c0"/>
<rect x="713" y="529" width="3" height="1" fill="#c0c0c0"/>
<rect x="719" y="529" width="3" height="1" fill="#c0c0c0"/>
<rect x="725" y="529" width="3" height="1" fill="#c0c0c0"/>
<rect x="731" y="529" width="3" height="1" fill="#c0c0c0"/>
<rect x="737" y="529" width="3" height="1" fill="#c0c0c0"/>
<rect x="743" y="529" width="3" height="1" fill="#c0c0c0"/>
<rect x="749" y="529" width="3" height="1" fill="#c0c0c0"/>
<rect x="755" y="529" width="3" height="1" fill="#c0c0c0"/>
<rect x="761" y="529" width="3" height="1" fill="#c0c0c0"/>
<rect x="767" y="529" width="3" height="1" fill="#c0c0c0"/>
<rect x="773" y="529" width="3" height="1" fill="#c0c0c0"/>
<rect x="779" y="529" width="3" height="1" fill="#c0c0c0"/>
<rect x="785" y="529" width="3" height="1" fill="#c0c0c0"/>
<rect x="791" y="529" width="3" height="1" fill="#c0c0c0"/>
<rect x="797" y="529" width="3" height="1" fill="#c0c0c0"/>
<rect x="803" y="529" width="3" height="1" fill="#c0c0c0"/>
<rect x="809" y="529" width="3" height="1" fill="#c0c0c0"/>
<rect x="815" y="529" width="3" height="1" fill="#c0c0c0"/>
<rect x="821" y="529" width="3" height="1" fill="#c0c0c0"/>
<rect x="827" y="529" width="3" height="1" fill="#c0c0c0"/>
<rect x="833" y="529" width="3" height="1" fill="#c0c0c0"/>
<rect x="839" y="529" width="3" height="1" fill="#c0c0c0"/>
<rect x="845" y="529" width="3" height="1" fill="#c0c0c0"/>
<rect x="851" y="529" width="3" height="1" fill="#c0c0c0"/>
<rect x="857" y="529" width="3" height="1" fill="#c0c0c0"/>
<rect x="863" y="529" width="3" height="1" fill="#c0c0c0"/>
<rect x="869" y="529" width="3" height="1" fill="#c0c0c0"/>
<rect x="875" y="529" width="3" height="1" fill="#c0c0c0"/>
<rect x="881" y="529" width="3" height="1" fill="#c0c0c0"/>
<rect x="887" y="529" width="3" height="1" fill="#c0c0c0"/>
<rect x="893" y="529" width="3" height="1" fill="#c0c0c0"/>
<rect x="899" y="529" width="3" height="1" fill="#c0c0c0"/>
<rect x="905" y="529" width="3" height="1" fill="#c0c0c0"/>
<rect x="911" y="529" width="3" height="1" fill="#c0c0c0"/>
<rect x="917" y="529" width="3" height="1" fill="#c0c0c0"/>
<rect x="923" y="529" width="3" height="1" fill="#c0c0c0"/>
<rect x="929" y="529" width="3" height="1" fill="#c0c0c0"/>
<rect x="935" y="529" width="3" height="1" fill="#c0c0c0"/>
<rect x="941" y="529" width="3" height="1" fill="#c0c0c0"/>
<rect x="947" y="529" width="3" height="1" fill="#c0c0c0"/>
<rect x="953" y="529" width="3" height="1" fill="#c0c0c0"/>
<rect x="959" y="529" width="3" height="1" fill="#c0c0c0"/>
<rect x="965" y="529" width="3" height="1" fill="#c0c0c0"/>
<rect x="971" y="529" width="3" height="1" fill="#c0c0c0"/>
<rect x="977" y="529" width="3" height="1" fill="#c0c0c0"/>
<rect x="983" y="529" width="3" height="1" fill="#c0c0c0"/>
<rect x="989" y="529" width="3" height="1" fill="#c0c0c0"/>
<rect x="995" y="529" width="3" height="1" fill="#c0c0c0"/>
<rect x="1001" y="529" width="3" height="1" fill="#c0c0c0"/>
<rect x="1007" y="529" width="3" height="1" fill="#c0c0c0"/>
<rect x="1013" y="529" width="3" height="1" fill="#c0c0c0"/>
<rect x="1019" y="529" width="3" height="1" fill="#c0c0c0"/>
<rect x="1025" y="529" width="3" height="1" fill="#c0c0c0"/>
<rect x="1031" y="529" width="3" height="1" fill="#c0c0c0"/>
<rect x="1037" y="529" width="3" height="1" fill="#c0c0c0"/>
<rect x="1043" y="529" width="3" height="1" fill="#c0c0c0"/>
<rect x="1049" y="529" width="3" height="1" fill="#c0c0c0"/>
<rect x="1055" y="529" width="3" height="1" fill="#c0c0c0"/>
<rect x="1061" y="529" width="3" height="1" fill="#c0c0c0"/>
<rect x="1067" y="529" width="3" height="1" fill="#c0c0c0"/>
<rect x="1073" y="529" width="3" height="1" fill="#c0c0c0"/>
<rect x="1079" y="529" width="3" height="1" fill="#c0c0c0"/>
<rect x="1085" y="529" width="3" height="1" fill="#c0c0c0"/>
<rect x="1091" y="529" width="3" height="1" fill="#c0c0c0"/>
<rect x="1097" y="529" width="3" height="1" fill="#c0c0c0"/>
<rect x="1103" y="529" width="3" height="1" fill="#c0c0c0"/>
<rect x="1109" y="529" width="3" height="1" fill="#c0c0c0"/>
<rect x="1115" y="529" width="3" height="1" fill="#c0c0c0"/>
<rect x="1121" y="529" width="3" height="1" fill="#c0c0c0"/>
<rect x="1127" y="529" width="3" height="1" fill="#c0c0c0"/>
<rect x="1133" y="529" width="3" height="1" fill="#c0c0c0"/>
<rect x="1139" y="529" width="3" height="1" fill="#c0c0c0"/>
<rect x="1145" y="529" width="3" height="1" fill="#c0c0c0"/>
<rect x="1151" y="529" width="3" height="1" fill="#c0c0c0"/>
<rect x="1157" y="529" width="3" height="1" fill="#c0c0c0"/>
<rect x="1163" y="529" width="3" height="1" fill="#c0c0c0"/>
<rect x="1169" y="529" width="3" height="1" fill="#c0c0c0"/>
<rect x="1175" y="529" width="3" height="1" fill="#c0c0c0"/>
<rect x="1181" y="529" width="3" height="1" fill="#c0c0c0"/>
<rect x="1187" y="529" width="3" height="1" fill="#c0c0c0"/>
<rect x="1193" y="529" width="3" height="1" fill="#c0c0c0"/>
<rect x="1199" y="529" width="3" height="1" fill="#c0c0c0"/>
<rect x="1205" y="529" width="3" height="1" fill="#c0c0c0"/>
<rect x="1211" y="529" width="3" height="1" fill="#c0c0c0"/>
<rect x="1217" y="529" width="3" height="1" fill="#c0c0c0"/>
<rect x="1223" y="529" width="3" height="1" fill="#c0c0c0"/>
<rect x="1229" y="529" width="3" height="1" fill="#c0c0c0"/>
<rect x="1235" y="529" width="3" height="1" fill="#c0c0c0"/>
<rect x="1241" y="529" width="3" height="1" fill="#c0c0c0"/>
<rect x="1247" y="529" width="3" height="1" fill="#c0c0c0"/>
<rect x="1253" y="529" width="3" height="1" fill="#c0c0c0"/>
<rect x="1259" y="529" width="3" height="1" fill="#c0c0c0"/>
<rect x="1265" y="529" width="3" height="1" fill="#c0c0c0"/>
<rect x="1271" y="529" width="3" height="1" fill="#c0c0c0"/>
<rect x="1277" y="529" width="3" height="1" fill="#c0c0c0"/>
<rect x="1283" y="529" width="3" height="1" fill="#c0c0c0"/>
<rect x="1289" y="529" width="3" height="1" fill="#c0c0c0"/>
<rect x="1295" y="529" width="3" height="1" fill="#c0c0c0"/>
<rect x="1301" y="529" width="3" height="1" fill="#c0c0c0"/>
<rect x="1307" y="529" width="3" height="1" fill="#c0c0c0"/>
<rect x="1313" y="529" width="3" height="1" fill="#c0c0c0"/>
<rect x="1319" y="529" width="3" height="1" fill="#c0c0c0"/>
<rect x="1325" y="529" width="3" height="1" fill="#c0c0c0"/>
<rect x="1331" y="529" width="3" height="1" fill="#c0c0c0"/>
<rect x="1337" y="529" width="3" height="1" fill="#c0c0c0"/>
<rect x="1343" y="529" width="3" height="1" fill="#c0c0c0"/>
<rect x="1349" y="529" width="3" height="1" fill="#c0c0c0"/>
<rect x="1355" y="529" width="3" height="1" fill="#c0c0c0"/>
<rect x="1361" y="529" width="3" height="1" fill="#c0c0c0"/>
<rect x="1367" y="529" width="3" height="1" fill="#c0c0c0"/>
<rect x="1373" y="529" width="3" height="1" fill="#c0c0c0"/>
<rect x="1379" y="529" width="3" height="1" fill="#c0c0c0"/>
<rect x="1385" y="529" width="3" height="1" fill="#c0c0c0"/>
<rect x="1391" y="529" width="3" height="1" fill="#c0c0c0"/>
<rect x="1397" y="529" width="3" height="1" fill="#c0c0c0"/>
<rect x="1403" y="529" width="3" height="1" fill="#c0c0c0"/>
<rect x="1409" y="529" width="3" height="1" fill="#c0c0c0"/>
<rect x="1415" y="529" width="3" height="1" fill="#c0c0c0"/>
<rect x="1421" y="529" width="3" height="1" fill="#c0c0c0"/>
<rect x="1427" y="529" width="3" height="1" fill="#c0c0c0"/>
<rect x="1433" y="529" width="3" height="1" fill="#c0c0c0"/>
<rect x="1439" y="529" width="3" height="1" fill="#c0c0c0"/>
<rect x="1445" y="529" width="3" height="1" fill="#c0c0c0"/>
<rect x="1451" y="529" width="3" height="1" fill="#c0c0c0"/>
<rect x="1457" y="529" width="3" height="1" fill="#c0c0c0"/>
<rect x="1463" y="529" width="3" height="1" fill="#c0c0c0"/>
<rect x="1469" y="529" width="3" height="1" fill="#c0c0c0"/>
<rect x="1475" y="529" width="3" height="1" fill="#c0c0c0"/>
<rect x="1481" y="529" width="3" height="1" fill="#c0c0c0"/>
<rect x="1487" y="529" width="3" height="1" fill="#c0c0c0"/>
<rect x="5" y="563" width="3" height="1" fill="#c0c0c0"/>
<rect x="11" y="563" width="3" height="1" fill="#c0c0c0"/>
<rect x="17" y="563" width="3" height="1" fill="#c0c0c0"/>
<rect x="23" y="563" width="3" height="1" fill="#c0c0c0"/>
<rect x="29" y="563" width="3" height="1" fill="#c0c0c0"/>
<rect x="35" y="563" width="3" height="1" fill="#c0c0c0"/>
<rect x="41" y="563" width="3" height="1" fill="#c0c0c0"/>
<rect x="47" y="563" width="3" height="1" fill="#c0c0c0"/>
<rect x="53" y="563" width="3" height="1" fill="#c0c0c0"/>
<rect x="59" y="563" width="3" height="1" fill="#c0c0c0"/>
<rect x="65" y="563" width="3" height="1" fill="#c0c0c0"/>
<rect x="71" y="563" width="3" height="1" fill="#c0c0c0"/>
<rect x="77" y="563" width="3" height="1" fill="#c0c0c0"/>
<rect x="83" y="563" width="3" height="1" fill="#c0c0c0"/>
<rect x="89" y="563" width="3" height="1" fill="#c0c0c0"/>
<rect x="95" y="563" width="3" height="1" fill="#c0c0c0"/>
<rect x="101" y="563" width="3" height="1" fill="#c0c0c0"/>
<rect x="107" y="563" width="3" height="1" fill="#c0c0c0"/>
<rect x="113" y="563" width="3" height="1" fill="#c0c0c0"/>
<rect x="119" y="563" width="3" height="1" fill="#c0c0c0"/>
<rect x="125" y="563" width="3" height="1" fill="#c0c0c0"/>
<rect x="131" y="563" width="3" height="1" fill="#c0c0c0"/>
<rect x="137" y="563" width="3" height="1" fill="#c0c0c0"/>
<rect x="143" y="563" width="3" height="1" fill="#c0c0c0"/>
<rect x="149" y="563" width="3" height="1" fill="#c0c0c0"/>
<rect x="155" y="563" width="3" height="1" fill="#c0c0c0"/>
<rect x="161" y="563" width="3" height="1" fill="#c0c0c0"/>
<rect x="167" y="563" width="3" height="1" fill="#c0c0c0"/>
<rect x="173" y="563" width="3" height="1" fill="#c0c0c0"/>
<rect x="179" y="563" width="3" height="1" fill="#c0c0c0"/>
<rect x="185" y="563" width="3" height="1" fill="#c0c0c0"/>
<rect x="191" y="563" width="3" height="1" fill="#c0c0c0"/>
<rect x="197" y="563" width="3" height="1" fill="#c0c0c0"/>
<rect x="203" y="563" width="3" height="1" fill="#c0c0c0"/>
<rect x="209" y="563" width="3" height="1" fill="#c0c0c0"/>
<rect x="215" y="563" width="3" height="1" fill="#c0c0c0"/>
<rect x="221" y="563" width="3" height="1" fill="#c0c0c0"/>
<rect x="227" y="563" width="3" height="1" fill="#c0c0c0"/>
<rect x="233" y="563" width="3" height="1" fill="#c0c0c0"/>
<rect x="239" y="563" width="3" height="1" fill="#c0c0c0"/>
<rect x="245" y="563" width="3" height="1" fill="#c0c0c0"/>
<rect x="251" y="563" width="3" height="1" fill="#c0c0c0"/>
<rect x="257" y="563" width="3" height="1" fill="#c0c0c0"/>
<rect x="263" y="563" width="3" height="1" fill="#c0c0c0"/>
<rect x="269" y="563" width="3" height="1" fill="#c0c0c0"/>
<rect x="275" y="563" width="3" height="1" fill="#c0c0c0"/>
<rect x="281" y="563" width="3" height="1" fill="#c0c0c0"/>
<rect x="287" y="563" width="3" height="1" fill="#c0c0c0"/>
<rect x="293" y="563" width="3" height="1" fill="#c0c0c0"/>
<rect x="299" y="563" width="3" height="1" fill="#c0c0c0"/>
<rect x="305" y="563" width="3" height="1" fill="#c0c0c0"/>
<rect x="311" y="563" width="3" height="1" fill="#c0c0c0"/>
<rect x="317" y="563" width="3" height="1" fill="#c0c0c0"/>
<rect x="323" y="563" width="3" height="1" fill="#c0c0c0"/>
<rect x="329" y="563" width="3" height="1" fill="#c0c0c0"/>
<rect x="335" y="563" width="3" height="1" fill="#c0c0c0"/>
<rect x="341" y="563" width="3" height="1" fill="#c0c0c0"/>
<rect x="347" y="563" width="3" height="1" fill="#c0c0c0"/>
<rect x="353" y="563" width="3" height="1" fill="#c0c0c0"/>
<rect x="359" y="563" width="3" height="1" fill="#c0c0c0"/>
<rect x="365" y="563" width="3" height="1" fill="#c0c0c0"/>
<rect x="371" y="563" width="3" height="1" fill="#c0c0c0"/>
<rect x="377" y="563" width="3" height="1" fill="#c0c0c0"/>
<rect x="383" y="563" width="3" height="1" fill="#c0c0c0"/>
<rect x="389" y="563" width="3" height="1" fill="#c0c0c0"/>
<rect x="395" y="563" width="3" height="1" fill="#c0c0c0"/>
<rect x="401" y="563" width="3" height="1" fill="#c0c0c0"/>
<rect x="407" y="563" width="3" height="1" fill="#c0c0c0"/>
<rect x="413" y="563" width="3" height="1" fill="#c0c0c0"/>
<rect x="419" y="563" width="3" height="1" fill="#c0c0c0"/>
<rect x="425" y="563" width="3" height="1" fill="#c0c0c0"/>
<rect x="431" y="563" width="3" height="1" fill="#c0c0c0"/>
<rect x="437" y="563" width="3" height="1" fill="#c0c0c0"/>
<rect x="443" y="563" width="3" height="1" fill="#c0c0c0"/>
<rect x="449" y="563" width="3" height="1" fill="#c0c0c0"/>
<rect x="455" y="563" width="3" height="1" fill="#c0c0c0"/>
<rect x="461" y="563" width="3" height="1" fill="#c0c0c0"/>
<rect x="467" y="563" width="3" height="1" fill="#c0c0c0"/>
<rect x="473" y="563" width="3" height="1" fill="#c0c0c0"/>
<rect x="479" y="563" width="3" height="1" fill="#c0c0c0"/>
<rect x="485" y="563" width="3" height="1" fill="#c0c0c0"/>
<rect x="491" y="563" width="3" height="1" fill="#c0c0c0"/>
<rect x="497" y="563" width="3" height="1" fill="#c0c0c0"/>
<rect x="503" y="563" width="3" height="1" fill="#c0c0c0"/>
<rect x="509" y="563" width="3" height="1" fill="#c0c0c0"/>
<rect x="515" y="563" width="3" height="1" fill="#c0c0c0"/>
<rect x="521" y="563" width="3" height="1" fill="#c0c0c0"/>
<rect x="527" y="563" width="3" height="1" fill="#c0c0c0"/>
<rect x="533" y="563" width="3" height="1" fill="#c0c0c0"/>
<rect x="539" y="563" width="3" height="1" fill="#c0c0c0"/>
<rect x="545" y="563" width="3" height="1" fill="#c0c0c0"/>
<rect x="551" y="563" width="3" height="1" fill="#c0c0c0"/>
<rect x="557" y="563" width="3" height="1" fill="#c0c0c0"/>
<rect x="563" y="563" width="3" height="1" fill="#c0c0c0"/>
<rect x="569" y="563" width="3" height="1" fill="#c0c0c0"/>
<rect x="575" y="563" width="3" height="1" fill="#c0c0c0"/>
<rect x="581" y="563" width="3" height="1" fill="#c0c0c0"/>
<rect x="587" y="563" width="3" height="1" fill="#c0c0c0"/>
<rect x="593" y="563" width="3" height="1" fill="#c0c0c0"/>
<rect x="599" y="563" width="3" height="1" fill="#c0c0c0"/>
<rect x="605" y="563" width="3" height="1" fill="#c0c0c0"/>
<rect x="611" y="563" width="3" height="1" fill="#c0c0c0"/>
<rect x="617" y="563" width="3" height="1" fill="#c0c0c0"/>
<rect x="623" y="563" width="3" height="1" fill="#c0c0c0"/>
<rect x="629" y="563" width="3" height="1" fill="#c0c0c0"/>
<rect x="635" y="563" width="3" height="1" fill="#c0c0c0"/>
<rect x="641" y="563" width="3" height="1" fill="#c0c0c0"/>
<rect x="647" y="563" width="3" height="1" fill="#c0c0c0"/>
<rect x="653" y="563" width="3" height="1" fill="#c0c0c0"/>
<rect x="659" y="563" width="3" height="1" fill="#c0c0c0"/>
<rect x="665" y="563" width="3" height="1" fill="#c0c0c0"/>
<rect x="671" y="563" width="3" height="1" fill="#c0c0c0"/>
<rect x="677" y="563" width="3" height="1" fill="#c0c0c0"/>
<rect x="683" y="563" width="3" height="1" fill="#c0c0c0"/>
<rect x="689" y="563" width="3" height="1" fill="#c0c0c0"/>
<rect x="695" y="563" width="3" height="1" fill="#c0c0c0"/>
<rect x="701" y="563" width="3" height="1" fill="#c0c0c0"/>
<rect x="707" y="563" width="3" height="1" fill="#c0c0c0"/>
<rect x="713" y="563" width="3" height="1" fill="#c0c0c0"/>
<rect x="719" y="563" width="3" height="1" fill="#c0c0c0"/>
<rect x="725" y="563" width="3" height="1" fill="#c0c0c0"/>
<rect x="731" y="563" width="3" height="1" fill="#c0c0c0"/>
<rect x="737" y="563" width="3" height="1" fill="#c0c0c0"/>
<rect x="743" y="563" width="3" height="1" fill="#c0c0c0"/>
<rect x="749" y="563" width="3" height="1" fill="#c0c0c0"/>
<rect x="755" y="563" width="3" height="1" fill="#c0c0c0"/>
<rect x="761" y="563" width="3" height="1" fill="#c0c0c0"/>
<rect x="767" y="563" width="3" height="1" fill="#c0c0c0"/>
<rect x="773" y="563" width="3" height="1" fill="#c0c0c0"/>
<rect x="779" y="563" width="3" height="1" fill="#c0c0c0"/>
<rect x="785" y="563" width="3" height="1" fill="#c0c0c0"/>
<rect x="791" y="563" width="3" height="1" fill="#c0c0c0"/>
<rect x="797" y="563" width="3" height="1" fill="#c0c0c0"/>
<rect x="803" y="563" width="3" height="1" fill="#c0c0c0"/>
<rect x="809" y="563" width="3" height="1" fill="#c0c0c0"/>
<rect x="815" y="563" width="3" height="1" fill="#c0c0c0"/>
<rect x="821" y="563" width="3" height="1" fill="#c0c0c0"/>
<rect x="827" y="563" width="3" height="1" fill="#c0c0c0"/>
<rect x="833" y="563" width="3" height="1" fill="#c0c0c0"/>
<rect x="839" y="563" width="3" height="1" fill="#c0c0c0"/>
<rect x="845" y="563" width="3" height="1" fill="#c0c0c0"/>
<rect x="851" y="563" width="3" height="1" fill="#c0c0c0"/>
<rect x="857" y="563" width="3" height="1" fill="#c0c0c0"/>
<rect x="863" y="563" width="3" height="1" fill="#c0c0c0"/>
<rect x="869" y="563" width="3" height="1" fill="#c0c0c0"/>
<rect x="875" y="563" width="3" height="1" fill="#c0c0c0"/>
<rect x="881" y="563" width="3" height="1" fill="#c0c0c0"/>
<rect x="887" y="563" width="3" height="1" fill="#c0c0c0"/>
<rect x="893" y="563" width="3" height="1" fill="#c0c0c0"/>
<rect x="899" y="563" width="3" height="1" fill="#c0c0c0"/>
<rect x="905" y="563" width="3" height="1" fill="#c0c0c0"/>
<rect x="911" y="563" width="3" height="1" fill="#c0c0c0"/>
<rect x="917" y="563" width="3" height="1" fill="#c0c0c0"/>
<rect x="923" y="563" width="3" height="1" fill="#c0c0c0"/>
<rect x="929" y="563" width="3" height="1" fill="#c0c0c0"/>
<rect x="935" y="563" width="3" height="1" fill="#c0c0c0"/>
<rect x="941" y="563" width="3" height="1" fill="#c0c0c0"/>
<rect x="947" y="563" width="3" height="1" fill="#c0c0c0"/>
<rect x="953" y="563" width="3" height="1" fill="#c0c0c0"/>
<rect x="959" y="563" width="3" height="1" fill="#c0c0c0"/>
<rect x="965" y="563" width="3" height="1" fill="#c0c0c0"/>
<rect x="971" y="563" width="3" height="1" fill="#c0c0c0"/>
<rect x="977" y="563" width="3" height="1" fill="#c0c0c0"/>
<rect x="983" y="563" width="3" height="1" fill="#c0c0c0"/>
<rect x="989" y="563" width="3" height="1" fill="#c0c0c0"/>
<rect x="995" y="563" width="3" height="1" fill="#c0c0c0"/>
<rect x="1001" y="563" width="3" height="1" fill="#c0c0c0"/>
<rect x="1007" y="563" width="3" height="1" fill="#c0c0c0"/>
<rect x="1013" y="563" width="3" height="1" fill="#c0c0c0"/>
<rect x="1019" y="563" width="3" height="1" fill="#c0c0c0"/>
<rect x="1025" y="563" width="3" height="1" fill="#c0c0c0"/>
<rect x="1031" y="563" width="3" height="1" fill="#c0c0c0"/>
<rect x="1037" y="563" width="3" height="1" fill="#c0c0c0"/>
<rect x="1043" y="563" width="3" height="1" fill="#c0c0c0"/>
<rect x="1049" y="563" width="3" height="1" fill="#c0c0c0"/>
<rect x="1055" y="563" width="3" height="1" fill="#c0c0c0"/>
<rect x="1061" y="563" width="3" height="1" fill="#c0c0c0"/>
<rect x="1067" y="563" width="3" height="1" fill="#c0c0c0"/>
<rect x="1073" y="563" width="3" height="1" fill="#c0c0c0"/>
<rect x="1079" y="563" width="3" height="1" fill="#c0c0c0"/>
<rect x="1085" y="563" width="3" height="1" fill="#c0c0c0"/>
<rect x="1091" y="563" width="3" height="1" fill="#c0c0c0"/>
<rect x="1097" y="563" width="3" height="1" fill="#c0c0c0"/>
<rect x="1103" y="563" width="3" height="1" fill="#c0c0c0"/>
<rect x="1109" y="563" width="3" height="1" fill="#c0c0c0"/>
<rect x="1115" y="563" width="3" height="1" fill="#c0c0c0"/>
<rect x="1121" y="563" width="3" height="1" fill="#c0c0c0"/>
<rect x="1127" y="563" width="3" height="1" fill="#c0c0c0"/>
<rect x="1133" y="563" width="3" height="1" fill="#c0c0c0"/>
<rect x="1139" y="563" width="3" height="1" fill="#c0c0c0"/>
<rect x="1145" y="563" width="3" height="1" fill="#c0c0c0"/>
<rect x="1151" y="563" width="3" height="1" fill="#c0c0c0"/>
<rect x="1157" y="563" width="3" height="1" fill="#c0c0c0"/>
<rect x="1163" y="563" width="3" height="1" fill="#c0c0c0"/>
<rect x="1169" y="563" width="3" height="1" fill="#c0c0c0"/>
<rect x="1175" y="563" width="3" height="1" fill="#c0c0c0"/>
<rect x="1181" y="563" width="3" height="1" fill="#c0c0c0"/>
<rect x="1187" y="563" width="3" height="1" fill="#c0c0c0"/>
<rect x="1193" y="563" width="3" height="1" fill="#c0c0c0"/>
<rect x="1199" y="563" width="3" height="1" fill="#c0c0c0"/>
<rect x="1205" y="563" width="3" height="1" fill="#c0c0c0"/>
<rect x="1211" y="563" width="3" height="1" fill="#c0c0c0"/>
<rect x="1217" y="563" width="3" height="1" fill="#c0c0c0"/>
<rect x="1223" y="563" width="3" height="1" fill="#c0c0c0"/>
<rect x="1229" y="563" width="3" height="1" fill="#c0c0c0"/>
<rect x="1235" y="563" width="3" height="1" fill="#c0c0c0"/>
<rect x="1241" y="563" width="3" height="1" fill="#c0c0c0"/>
<rect x="1247" y="563" width="3" height="1" fill="#c0c0c0"/>
<rect x="1253" y="563" width="3" height="1" fill="#c0c0c0"/>
<rect x="1259" y="563" width="3" height="1" fill="#c0c0c0"/>
<rect x="1265" y="563" width="3" height="1" fill="#c0c0c0"/>
<rect x="1271" y="563" width="3" height="1" fill="#c0c0c0"/>
<rect x="1277" y="563" width="3" height="1" fill="#c0c0c0"/>
<rect x="1283" y="563" width="3" height="1" fill="#c0c0c0"/>
<rect x="1289" y="563" width="3" height="1" fill="#c0c0c0"/>
<rect x="1295" y="563" width="3" height="1" fill="#c0c0c0"/>
<rect x="1301" y="563" width="3" height="1" fill="#c0c0c0"/>
<rect x="1307" y="563" width="3" height="1" fill="#c0c0c0"/>
<rect x="1313" y="563" width="3" height="1" fill="#c0c0c0"/>
<rect x="1319" y="563" width="3" height="1" fill="#c0c0c0"/>
<rect x="1325" y="563" width="3" height="1" fill="#c0c0c0"/>
<rect x="1331" y="563" width="3" height="1" fill="#c0c0c0"/>
<rect x="1337" y="563" width="3" height="1" fill="#c0c0c0"/>
<rect x="1343" y="563" width="3" height="1" fill="#c0c0c0"/>
<rect x="1349" y="563" width="3" height="1" fill="#c0c0c0"/>
<rect x="1355" y="563" width="3" height="1" fill="#c0c0c0"/>
<rect x="1361" y="563" width="3" height="1" fill="#c0c0c0"/>
<rect x="1367" y="563" width="3" height="1" fill="#c0c0c0"/>
<rect x="1373" y="563" width="3" height="1" fill="#c0c0c0"/>
<rect x="1379" y="563" width="3" height="1" fill="#c0c0c0"/>
<rect x="1385" y="563" width="3" height="1" fill="#c0c0c0"/>
<rect x="1391" y="563" width="3" height="1" fill="#c0c0c0"/>
<rect x="1397" y="563" width="3" height="1" fill="#c0c0c0"/>
<rect x="1403" y="563" width="3" height="1" fill="#c0c0c0"/>
<rect x="1409" y="563" width="3" height="1" fill="#c0c0c0"/>
<rect x="1415" y="563" width="3" height="1" fill="#c0c0c0"/>
<rect x="1421" y="563" width="3" height="1" fill="#c0c0c0"/>
<rect x="1427" y="563" width="3" height="1" fill="#c0c0c0"/>
<rect x="1433" y="563" width="3" height="1" fill="#c0c0c0"/>
<rect x="1439" y="563" width="3" height="1" fill="#c0c0c0"/>
<rect x="1445" y="563" width="3" height="1" fill="#c0c0c0"/>
<rect x="1451" y="563" width="3" height="1" fill="#c0c0c0"/>
<rect x="1457" y="563" width="3" height="1" fill="#c0c0c0"/>
<rect x="1463" y="563" width="3" height="1" fill="#c0c0c0"/>
<rect x="1469" y="563" width="3" height="1" fill="#c0c0c0"/>
<rect x="1475" y="563" width="3" height="1" fill="#c0c0c0"/>
<rect x="1481" y="563" width="3" height="1" fill="#c0c0c0"/>
<rect x="1487" y="563" width="3" height="1" fill="#c0c0c0"/>
<clipPath id="cr"><rect x="4" y="503" width="1484" height="86"/></clipPath>
<path d="M684 512h2v1h-2zM682 513h2v1h-2zM686 513h3v1h-3zM651 514h2v1h-2zM680 514h2v1h-2zM689 514h2v1h-2zM647 515h4v1h-4zM653 515h2v1h-2zM678 515h2v1h-2zM691 515h2v1h-2zM643 516h4v1h-4zM655 516h2v1h-2zM675 516h3v1h-3zM693 516h2v1h-2zM628 517h3v1h-3zM641 517h2v1h-2zM657 517h1v1h-1zM673 517h2v1h-2zM695 517h1v1h-1zM627 518h1v1h-1zM631 518h4v1h-4zM638 518h3v1h-3zM658 518h2v1h-2zM670 518h3v1h-3zM696 518h1v1h-1zM625 519h2v1h-2zM635 519h3v1h-3zM660 519h10v1h-10zM697 519h2v1h-2zM427 520h2v1h-2zM624 520h1v1h-1zM699 520h1v1h-1zM713 520h5v1h-5zM401 521h16v1h-16zM423 521h4v1h-4zM429 521h1v1h-1zM623 521h1v1h-1zM700 521h13v1h-13zM718 521h3v1h-3zM393 522h8v1h-8zM417 522h6v1h-6zM430 522h1v1h-1zM621 522h2v1h-2zM721 522h2v1h-2zM385 523h8v1h-8zM431 523h1v1h-1zM556 523h2v1h-2zM620 523h1v1h-1zM723 523h2v1h-2zM379 524h6v1h-6zM432 524h1v1h-1zM554 524h2v1h-2zM558 524h3v1h-3zM619 524h1v1h-1zM725 524h1v1h-1zM375 525h4v1h-4zM433 525h1v1h-1zM552 525h2v1h-2zM561 525h2v1h-2zM617 525h2v1h-2zM726 525h1v1h-1zM371 526h4v1h-4zM434 526h1v1h-1zM550 526h2v1h-2zM563 526h3v1h-3zM616 526h1v1h-1zM727 526h1v1h-1zM367 527h4v1h-4zM435 527h1v1h-1zM548 527h2v1h-2zM566 527h3v1h-3zM615 527h1v1h-1zM728 527h1v1h-1zM353 528h14v1h-14zM436 528h1v1h-1zM547 528h1v1h-1zM569 528h2v1h-2zM613 528h2v1h-2zM729 528h1v1h-1zM347 529h6v1h-6zM437 529h1v1h-1zM545 529h2v1h-2zM571 529h2v1h-2zM609 529h4v1h-4zM730 529h1v1h-1zM343 530h4v1h-4zM438 530h1v1h-1zM544 530h1v1h-1zM573 530h1v1h-1zM603 530h6v1h-6zM731 530h1v1h-1zM339 531h4v1h-4zM439 531h1v1h-1zM543 531h1v1h-1zM574 531h1v1h-1zM599 531h4v1h-4zM732 531h1v1h-1zM335 532h4v1h-4zM440 532h1v1h-1zM541 532h2v1h-2zM575 532h1v1h-1zM595 532h4v1h-4zM733 532h1v1h-1zM332 533h3v1h-3zM441 533h1v1h-1zM539 533h2v1h-2zM576 533h1v1h-1zM591 533h4v1h-4zM733 533h1v1h-1zM330 534h2v1h-2zM442 534h1v1h-1zM537 534h2v1h-2zM576 534h1v1h-1zM588 534h3v1h-3zM734 534h1v1h-1zM328 535h2v1h-2zM443 535h1v1h-1zM534 535h3v1h-3zM577 535h1v1h-1zM586 535h2v1h-2zM735 535h1v1h-1zM308 536h5v1h-5zM326 536h2v1h-2zM444 536h3v1h-3zM531 536h3v1h-3zM578 536h1v1h-1zM584 536h2v1h-2zM735 536h1v1h-1zM306 537h2v1h-2zM313 537h13v1h-13zM447 537h4v1h-4zM457 537h6v1h-6zM529 537h2v1h-2zM579 537h1v1h-1zM582 537h2v1h-2zM736 537h1v1h-1zM304 538h2v1h-2zM451 538h6v1h-6zM463 538h4v1h-4zM526 538h3v1h-3zM580 538h2v1h-2zM737 538h1v1h-1zM302 539h2v1h-2zM467 539h3v1h-3zM483 539h3v1h-3zM524 539h2v1h-2zM737 539h1v1h-1zM779 539h3v1h-3zM916 539h2v1h-2zM300 540h2v1h-2zM470 540h3v1h-3zM481 540h2v1h-2zM486 540h3v1h-3zM523 540h1v1h-1zM738 540h1v1h-1zM764 540h5v1h-5zM775 540h4v1h-4zM782 540h3v1h-3zM914 540h2v1h-2zM918 540h3v1h-3zM299 541h1v1h-1zM473 541h2v1h-2zM478 541h3v1h-3zM489 541h2v1h-2zM522 541h1v1h-1zM739 541h1v1h-1zM763 541h1v1h-1zM769 541h6v1h-6zM785 541h2v1h-2zM801 541h8v1h-8zM881 541h5v1h-5zM913 541h1v1h-1zM921 541h2v1h-2zM1020 541h1v1h-1zM1091 541h2v1h-2zM298 542h1v1h-1zM475 542h3v1h-3zM491 542h4v1h-4zM522 542h1v1h-1zM739 542h1v1h-1zM745 542h5v1h-5zM761 542h2v1h-2zM787 542h14v1h-14zM809 542h4v1h-4zM876 542h5v1h-5zM886 542h2v1h-2zM911 542h2v1h-2zM923 542h2v1h-2zM1019 542h1v1h-1zM1021 542h1v1h-1zM1087 542h4v1h-4zM1093 542h1v1h-1zM297 543h1v1h-1zM495 543h4v1h-4zM521 543h1v1h-1zM740 543h5v1h-5zM750 543h2v1h-2zM760 543h1v1h-1zM813 543h2v1h-2zM875 543h1v1h-1zM888 543h2v1h-2zM909 543h2v1h-2zM925 543h2v1h-2zM945 543h5v1h-5zM1017 543h2v1h-2zM1022 543h1v1h-1zM1068 543h19v1h-19zM1094 543h1v1h-1zM296 544h1v1h-1zM499 544h4v1h-4zM520 544h1v1h-1zM752 544h2v1h-2zM759 544h1v1h-1zM815 544h2v1h-2zM874 544h1v1h-1zM890 544h2v1h-2zM907 544h2v1h-2zM927 544h2v1h-2zM939 544h6v1h-6zM950 544h3v1h-3zM988 544h18v1h-18zM1016 544h1v1h-1zM1023 544h2v1h-2zM1066 544h2v1h-2zM1095 544h1v1h-1zM295 545h1v1h-1zM503 545h4v1h-4zM519 545h1v1h-1zM754 545h2v1h-2zM757 545h2v1h-2zM817 545h1v1h-1zM873 545h1v1h-1zM892 545h5v1h-5zM903 545h4v1h-4zM929 545h1v1h-1zM937 545h2v1h-2zM953 545h2v1h-2zM987 545h1v1h-1zM1006 545h3v1h-3zM1015 545h1v1h-1zM1025 545h1v1h-1zM1064 545h2v1h-2zM1096 545h1v1h-1zM212 546h2v1h-2zM294 546h1v1h-1zM507 546h3v1h-3zM518 546h1v1h-1zM756 546h1v1h-1zM818 546h2v1h-2zM825 546h6v1h-6zM872 546h1v1h-1zM897 546h6v1h-6zM930 546h2v1h-2zM934 546h3v1h-3zM955 546h4v1h-4zM986 546h1v1h-1zM1009 546h2v1h-2zM1013 546h2v1h-2zM1026 546h1v1h-1zM1052 546h5v1h-5zM1062 546h2v1h-2zM1097 546h1v1h-1zM1131 546h6v1h-6zM211 547h1v1h-1zM214 547h3v1h-3zM293 547h1v1h-1zM510 547h3v1h-3zM518 547h1v1h-1zM820 547h5v1h-5zM831 547h4v1h-4zM872 547h1v1h-1zM932 547h2v1h-2zM959 547h4v1h-4zM985 547h1v1h-1zM1011 547h2v1h-2zM1027 547h1v1h-1zM1050 547h2v1h-2zM1057 547h5v1h-5zM1098 547h1v1h-1zM1129 547h2v1h-2zM1137 547h8v1h-8zM4 548h5v1h-5zM210 548h1v1h-1zM217 548h2v1h-2zM243 548h3v1h-3zM273 548h20v1h-20zM513 548h2v1h-2zM517 548h1v1h-1zM835 548h27v1h-27zM871 548h1v1h-1zM963 548h3v1h-3zM984 548h1v1h-1zM1028 548h2v1h-2zM1048 548h2v1h-2zM1099 548h1v1h-1zM1126 548h3v1h-3zM1145 548h4v1h-4zM9 549h5v1h-5zM209 549h1v1h-1zM219 549h14v1h-14zM239 549h4v1h-4zM246 549h3v1h-3zM267 549h6v1h-6zM515 549h2v1h-2zM862 549h3v1h-3zM870 549h1v1h-1zM966 549h3v1h-3zM983 549h1v1h-1zM1030 549h3v1h-3zM1046 549h2v1h-2zM1100 549h2v1h-2zM1123 549h3v1h-3zM1149 549h2v1h-2zM14 550h3v1h-3zM208 550h1v1h-1zM233 550h6v1h-6zM249 550h2v1h-2zM263 550h4v1h-4zM865 550h2v1h-2zM869 550h1v1h-1zM969 550h2v1h-2zM982 550h1v1h-1zM1033 550h2v1h-2zM1041 550h5v1h-5zM1102 550h2v1h-2zM1121 550h2v1h-2zM1151 550h1v1h-1zM17 551h2v1h-2zM25 551h8v1h-8zM76 551h21v1h-21zM105 551h4v1h-4zM207 551h1v1h-1zM251 551h12v1h-12zM867 551h2v1h-2zM971 551h6v1h-6zM981 551h1v1h-1zM1035 551h6v1h-6zM1104 551h2v1h-2zM1118 551h3v1h-3zM1152 551h1v1h-1zM19 552h6v1h-6zM33 552h5v1h-5zM75 552h1v1h-1zM97 552h8v1h-8zM109 552h2v1h-2zM206 552h1v1h-1zM977 552h4v1h-4zM1106 552h2v1h-2zM1113 552h5v1h-5zM1153 552h2v1h-2zM38 553h2v1h-2zM74 553h1v1h-1zM111 553h2v1h-2zM205 553h1v1h-1zM1108 553h5v1h-5zM1155 553h1v1h-1zM40 554h2v1h-2zM73 554h1v1h-1zM113 554h1v1h-1zM204 554h1v1h-1zM1156 554h3v1h-3zM42 555h2v1h-2zM71 555h2v1h-2zM114 555h2v1h-2zM202 555h2v1h-2zM1159 555h4v1h-4zM44 556h9v1h-9zM70 556h1v1h-1zM116 556h2v1h-2zM200 556h2v1h-2zM1163 556h4v1h-4zM53 557h2v1h-2zM69 557h1v1h-1zM118 557h2v1h-2zM198 557h2v1h-2zM1167 557h4v1h-4zM55 558h2v1h-2zM67 558h2v1h-2zM120 558h2v1h-2zM196 558h2v1h-2zM1171 558h2v1h-2zM57 559h1v1h-1zM65 559h2v1h-2zM122 559h2v1h-2zM195 559h1v1h-1zM58 560h2v1h-2zM62 560h3v1h-3zM124 560h5v1h-5zM194 560h1v1h-1zM60 561h2v1h-2zM129 561h5v1h-5zM193 561h1v1h-1zM134 562h3v1h-3zM192 562h1v1h-1zM137 563h2v1h-2zM191 563h1v1h-1zM139 564h3v1h-3zM190 564h1v1h-1zM142 565h2v1h-2zM177 565h8v1h-8zM189 565h1v1h-1zM144 566h2v1h-2zM155 566h6v1h-6zM169 566h8v1h-8zM185 566h4v1h-4zM146 567h2v1h-2zM151 567h4v1h-4zM161 567h8v1h-8zM148 568h3v1h-3z" fill="#1e90ff" clip-path="url(#cr)"/>
<text x="8.2" y="515" font-size="9.5" fill="#000" textLength="31.8" lengthAdjust="spacingAndGlyphs" class="s">RSI(14)</text>
<text x="42.8" y="515" font-size="9.5" fill="#000" textLength="33.4" lengthAdjust="spacingAndGlyphs" class="s">36.0822</text>
<rect x="1489" y="504" width="1" height="1" fill="#000"/>
<rect x="1489" y="529" width="1" height="1" fill="#000"/>
<rect x="1489" y="563" width="1" height="1" fill="#000"/>
<rect x="1489" y="588" width="1" height="1" fill="#000"/>
<text x="1492" y="513" font-size="9.5" fill="#000" textLength="15.4" lengthAdjust="spacingAndGlyphs" class="s">100</text>
<text x="1492" y="533" font-size="9.5" fill="#000" textLength="10.2" lengthAdjust="spacingAndGlyphs" class="s">70</text>
<text x="1492" y="567" font-size="9.5" fill="#000" textLength="10.2" lengthAdjust="spacingAndGlyphs" class="s">30</text>
<text x="1492" y="586" font-size="9.5" fill="#000" textLength="5.2" lengthAdjust="spacingAndGlyphs" class="s">0</text>
<rect x="4" y="660" width="1" height="1" fill="#c0c0c0"/>
<rect x="12" y="660" width="1" height="1" fill="#c0c0c0"/>
<rect x="20" y="660" width="1" height="1" fill="#c0c0c0"/>
<rect x="28" y="660" width="1" height="1" fill="#c0c0c0"/>
<rect x="36" y="660" width="1" height="2" fill="#c0c0c0"/>
<rect x="44" y="660" width="1" height="3" fill="#c0c0c0"/>
<rect x="52" y="660" width="1" height="3" fill="#c0c0c0"/>
<rect x="60" y="660" width="1" height="5" fill="#c0c0c0"/>
<rect x="68" y="660" width="1" height="5" fill="#c0c0c0"/>
<rect x="76" y="660" width="1" height="4" fill="#c0c0c0"/>
<rect x="84" y="660" width="1" height="4" fill="#c0c0c0"/>
<rect x="92" y="660" width="1" height="5" fill="#c0c0c0"/>
<rect x="100" y="660" width="1" height="5" fill="#c0c0c0"/>
<rect x="108" y="660" width="1" height="5" fill="#c0c0c0"/>
<rect x="116" y="660" width="1" height="5" fill="#c0c0c0"/>
<rect x="124" y="660" width="1" height="5" fill="#c0c0c0"/>
<rect x="132" y="660" width="1" height="7" fill="#c0c0c0"/>
<rect x="140" y="660" width="1" height="7" fill="#c0c0c0"/>
<rect x="148" y="660" width="1" height="10" fill="#c0c0c0"/>
<rect x="156" y="660" width="1" height="11" fill="#c0c0c0"/>
<rect x="164" y="660" width="1" height="12" fill="#c0c0c0"/>
<rect x="172" y="660" width="1" height="12" fill="#c0c0c0"/>
<rect x="180" y="660" width="1" height="12" fill="#c0c0c0"/>
<rect x="188" y="660" width="1" height="13" fill="#c0c0c0"/>
<rect x="196" y="660" width="1" height="12" fill="#c0c0c0"/>
<rect x="204" y="660" width="1" height="11" fill="#c0c0c0"/>
<rect x="212" y="660" width="1" height="9" fill="#c0c0c0"/>
<rect x="220" y="660" width="1" height="8" fill="#c0c0c0"/>
<rect x="228" y="660" width="1" height="7" fill="#c0c0c0"/>
<rect x="236" y="660" width="1" height="7" fill="#c0c0c0"/>
<rect x="244" y="660" width="1" height="6" fill="#c0c0c0"/>
<rect x="252" y="660" width="1" height="5" fill="#c0c0c0"/>
<rect x="260" y="660" width="1" height="5" fill="#c0c0c0"/>
<rect x="268" y="660" width="1" height="5" fill="#c0c0c0"/>
<rect x="276" y="660" width="1" height="4" fill="#c0c0c0"/>
<rect x="284" y="660" width="1" height="4" fill="#c0c0c0"/>
<rect x="292" y="660" width="1" height="3" fill="#c0c0c0"/>
<rect x="300" y="660" width="1" height="1" fill="#c0c0c0"/>
<rect x="308" y="660" width="1" height="1" fill="#c0c0c0"/>
<rect x="316" y="659" width="1" height="2" fill="#c0c0c0"/>
<rect x="324" y="659" width="1" height="2" fill="#c0c0c0"/>
<rect x="332" y="658" width="1" height="3" fill="#c0c0c0"/>
<rect x="340" y="657" width="1" height="4" fill="#c0c0c0"/>
<rect x="348" y="656" width="1" height="5" fill="#c0c0c0"/>
<rect x="356" y="655" width="1" height="6" fill="#c0c0c0"/>
<rect x="364" y="654" width="1" height="7" fill="#c0c0c0"/>
<rect x="372" y="653" width="1" height="8" fill="#c0c0c0"/>
<rect x="380" y="652" width="1" height="9" fill="#c0c0c0"/>
<rect x="388" y="651" width="1" height="10" fill="#c0c0c0"/>
<rect x="396" y="650" width="1" height="11" fill="#c0c0c0"/>
<rect x="404" y="650" width="1" height="11" fill="#c0c0c0"/>
<rect x="412" y="649" width="1" height="12" fill="#c0c0c0"/>
<rect x="420" y="649" width="1" height="12" fill="#c0c0c0"/>
<rect x="428" y="649" width="1" height="12" fill="#c0c0c0"/>
<rect x="436" y="649" width="1" height="12" fill="#c0c0c0"/>
<rect x="444" y="649" width="1" height="12" fill="#c0c0c0"/>
<rect x="452" y="651" width="1" height="10" fill="#c0c0c0"/>
<rect x="460" y="652" width="1" height="9" fill="#c0c0c0"/>
<rect x="468" y="653" width="1" height="8" fill="#c0c0c0"/>
<rect x="476" y="654" width="1" height="7" fill="#c0c0c0"/>
<rect x="484" y="654" width="1" height="7" fill="#c0c0c0"/>
<rect x="492" y="655" width="1" height="6" fill="#c0c0c0"/>
<rect x="500" y="656" width="1" height="5" fill="#c0c0c0"/>
<rect x="508" y="657" width="1" height="4" fill="#c0c0c0"/>
<rect x="516" y="657" width="1" height="4" fill="#c0c0c0"/>
<rect x="524" y="657" width="1" height="4" fill="#c0c0c0"/>
<rect x="532" y="657" width="1" height="4" fill="#c0c0c0"/>
<rect x="540" y="656" width="1" height="5" fill="#c0c0c0"/>
<rect x="548" y="655" width="1" height="6" fill="#c0c0c0"/>
<rect x="556" y="653" width="1" height="8" fill="#c0c0c0"/>
<rect x="564" y="652" width="1" height="9" fill="#c0c0c0"/>
<rect x="572" y="651" width="1" height="10" fill="#c0c0c0"/>
<rect x="580" y="652" width="1" height="9" fill="#c0c0c0"/>
<rect x="588" y="651" width="1" height="10" fill="#c0c0c0"/>
<rect x="596" y="651" width="1" height="10" fill="#c0c0c0"/>
<rect x="604" y="650" width="1" height="11" fill="#c0c0c0"/>
<rect x="612" y="650" width="1" height="11" fill="#c0c0c0"/>
<rect x="620" y="648" width="1" height="13" fill="#c0c0c0"/>
<rect x="628" y="643" width="1" height="18" fill="#c0c0c0"/>
<rect x="636" y="639" width="1" height="22" fill="#c0c0c0"/>
<rect x="644" y="635" width="1" height="26" fill="#c0c0c0"/>
<rect x="652" y="629" width="1" height="32" fill="#c0c0c0"/>
<rect x="660" y="627" width="1" height="34" fill="#c0c0c0"/>
<rect x="668" y="624" width="1" height="37" fill="#c0c0c0"/>
<rect x="676" y="619" width="1" height="42" fill="#c0c0c0"/>
<rect x="684" y="610" width="1" height="51" fill="#c0c0c0"/>
<rect x="692" y="604" width="1" height="57" fill="#c0c0c0"/>
<rect x="700" y="602" width="1" height="59" fill="#c0c0c0"/>
<rect x="708" y="600" width="1" height="61" fill="#c0c0c0"/>
<rect x="716" y="598" width="1" height="63" fill="#c0c0c0"/>
<rect x="724" y="597" width="1" height="64" fill="#c0c0c0"/>
<rect x="732" y="600" width="1" height="61" fill="#c0c0c0"/>
<rect x="740" y="608" width="1" height="53" fill="#c0c0c0"/>
<rect x="748" y="614" width="1" height="47" fill="#c0c0c0"/>
<rect x="756" y="621" width="1" height="40" fill="#c0c0c0"/>
<rect x="764" y="624" width="1" height="37" fill="#c0c0c0"/>
<rect x="772" y="627" width="1" height="34" fill="#c0c0c0"/>
<rect x="780" y="628" width="1" height="33" fill="#c0c0c0"/>
<rect x="788" y="632" width="1" height="29" fill="#c0c0c0"/>
<rect x="796" y="634" width="1" height="27" fill="#c0c0c0"/>
<rect x="804" y="636" width="1" height="25" fill="#c0c0c0"/>
<rect x="812" y="638" width="1" height="23" fill="#c0c0c0"/>
<rect x="820" y="643" width="1" height="18" fill="#c0c0c0"/>
<rect x="828" y="646" width="1" height="15" fill="#c0c0c0"/>
<rect x="836" y="649" width="1" height="12" fill="#c0c0c0"/>
<rect x="844" y="652" width="1" height="9" fill="#c0c0c0"/>
<rect x="852" y="654" width="1" height="7" fill="#c0c0c0"/>
<rect x="860" y="656" width="1" height="5" fill="#c0c0c0"/>
<rect x="868" y="659" width="1" height="2" fill="#c0c0c0"/>
<rect x="876" y="657" width="1" height="4" fill="#c0c0c0"/>
<rect x="884" y="656" width="1" height="5" fill="#c0c0c0"/>
<rect x="892" y="657" width="1" height="4" fill="#c0c0c0"/>
<rect x="900" y="657" width="1" height="4" fill="#c0c0c0"/>
<rect x="908" y="657" width="1" height="4" fill="#c0c0c0"/>
<rect x="916" y="655" width="1" height="6" fill="#c0c0c0"/>
<rect x="924" y="655" width="1" height="6" fill="#c0c0c0"/>
<rect x="932" y="655" width="1" height="6" fill="#c0c0c0"/>
<rect x="940" y="656" width="1" height="5" fill="#c0c0c0"/>
<rect x="948" y="656" width="1" height="5" fill="#c0c0c0"/>
<rect x="956" y="656" width="1" height="5" fill="#c0c0c0"/>
<rect x="964" y="658" width="1" height="3" fill="#c0c0c0"/>
<rect x="972" y="660" width="1" height="1" fill="#c0c0c0"/>
<rect x="980" y="660" width="1" height="1" fill="#c0c0c0"/>
<rect x="988" y="660" width="1" height="1" fill="#c0c0c0"/>
<rect x="996" y="660" width="1" height="1" fill="#c0c0c0"/>
<rect x="1004" y="660" width="1" height="1" fill="#c0c0c0"/>
<rect x="1012" y="660" width="1" height="1" fill="#c0c0c0"/>
<rect x="1020" y="660" width="1" height="1" fill="#c0c0c0"/>
<rect x="1028" y="660" width="1" height="1" fill="#c0c0c0"/>
<rect x="1036" y="660" width="1" height="1" fill="#c0c0c0"/>
<rect x="1044" y="660" width="1" height="1" fill="#c0c0c0"/>
<rect x="1052" y="660" width="1" height="1" fill="#c0c0c0"/>
<rect x="1060" y="660" width="1" height="1" fill="#c0c0c0"/>
<rect x="1068" y="660" width="1" height="1" fill="#c0c0c0"/>
<rect x="1076" y="660" width="1" height="1" fill="#c0c0c0"/>
<rect x="1084" y="660" width="1" height="1" fill="#c0c0c0"/>
<rect x="1092" y="660" width="1" height="1" fill="#c0c0c0"/>
<rect x="1100" y="660" width="1" height="1" fill="#c0c0c0"/>
<rect x="1108" y="660" width="1" height="1" fill="#c0c0c0"/>
<rect x="1116" y="660" width="1" height="1" fill="#c0c0c0"/>
<rect x="1124" y="660" width="1" height="3" fill="#c0c0c0"/>
<rect x="1132" y="660" width="1" height="2" fill="#c0c0c0"/>
<rect x="1140" y="660" width="1" height="2" fill="#c0c0c0"/>
<rect x="1148" y="660" width="1" height="2" fill="#c0c0c0"/>
<rect x="1156" y="660" width="1" height="6" fill="#c0c0c0"/>
<rect x="1164" y="660" width="1" height="8" fill="#c0c0c0"/>
<rect x="1172" y="660" width="1" height="11" fill="#c0c0c0"/>
<path d="M742 603h3v1h-3zM748 603h3v1h-3zM736 604h3v1h-3zM754 604h3v1h-3zM731 605h2v1h-2zM760 605h3v1h-3zM730 606h1v1h-1zM766 606h1v1h-1zM726 607h1v1h-1zM767 607h2v1h-2zM724 608h2v1h-2zM772 608h2v1h-2zM774 609h1v1h-1zM719 611h2v1h-2zM778 611h2v1h-2zM718 612h1v1h-1zM780 612h1v1h-1zM713 614h2v1h-2zM784 614h2v1h-2zM712 615h1v1h-1zM786 615h1v1h-1zM708 616h1v1h-1zM706 617h2v1h-2zM790 617h3v1h-3zM702 619h1v1h-1zM796 619h2v1h-2zM700 620h2v1h-2zM798 620h1v1h-1zM802 622h2v1h-2zM695 623h2v1h-2zM804 623h1v1h-1zM694 624h1v1h-1zM808 625h2v1h-2zM690 626h1v1h-1zM810 626h1v1h-1zM688 627h2v1h-2zM814 628h3v1h-3zM684 629h1v1h-1zM682 630h2v1h-2zM820 630h2v1h-2zM822 631h1v1h-1zM678 632h1v1h-1zM826 632h1v1h-1zM676 633h2v1h-2zM827 633h2v1h-2zM832 634h1v1h-1zM672 635h1v1h-1zM833 635h2v1h-2zM670 636h2v1h-2zM838 637h3v1h-3zM665 638h2v1h-2zM664 639h1v1h-1zM844 639h2v1h-2zM659 640h2v1h-2zM846 640h1v1h-1zM658 641h1v1h-1zM850 641h1v1h-1zM654 642h1v1h-1zM851 642h2v1h-2zM652 643h2v1h-2zM856 643h3v1h-3zM862 644h1v1h-1zM646 645h3v1h-3zM863 645h2v1h-2zM641 646h2v1h-2zM868 646h3v1h-3zM634 647h3v1h-3zM640 647h1v1h-1zM874 647h1v1h-1zM628 648h3v1h-3zM875 648h2v1h-2zM436 649h3v1h-3zM442 649h3v1h-3zM448 649h3v1h-3zM454 649h3v1h-3zM460 649h3v1h-3zM466 649h3v1h-3zM472 649h1v1h-1zM623 649h2v1h-2zM880 649h1v1h-1zM418 650h3v1h-3zM424 650h3v1h-3zM430 650h3v1h-3zM473 650h2v1h-2zM478 650h3v1h-3zM484 650h3v1h-3zM610 650h3v1h-3zM616 650h3v1h-3zM622 650h1v1h-1zM881 650h2v1h-2zM412 651h3v1h-3zM490 651h3v1h-3zM496 651h1v1h-1zM604 651h3v1h-3zM886 651h1v1h-1zM401 652h2v1h-2zM406 652h3v1h-3zM497 652h2v1h-2zM502 652h3v1h-3zM508 652h3v1h-3zM593 652h2v1h-2zM598 652h3v1h-3zM887 652h2v1h-2zM394 653h3v1h-3zM400 653h1v1h-1zM514 653h3v1h-3zM520 653h1v1h-1zM586 653h3v1h-3zM592 653h1v1h-1zM892 653h3v1h-3zM388 654h3v1h-3zM521 654h2v1h-2zM526 654h3v1h-3zM532 654h3v1h-3zM569 654h2v1h-2zM574 654h3v1h-3zM580 654h3v1h-3zM898 654h3v1h-3zM904 654h1v1h-1zM377 655h2v1h-2zM382 655h3v1h-3zM538 655h3v1h-3zM544 655h3v1h-3zM550 655h3v1h-3zM556 655h3v1h-3zM562 655h3v1h-3zM568 655h1v1h-1zM905 655h2v1h-2zM910 655h3v1h-3zM916 655h3v1h-3zM922 655h3v1h-3zM928 655h3v1h-3zM934 655h3v1h-3zM940 655h3v1h-3zM946 655h3v1h-3zM952 655h3v1h-3zM958 655h3v1h-3zM964 655h3v1h-3zM970 655h3v1h-3zM976 655h1v1h-1zM4 656h3v1h-3zM370 656h3v1h-3zM376 656h1v1h-1zM977 656h2v1h-2zM982 656h3v1h-3zM988 656h3v1h-3zM10 657h3v1h-3zM16 657h3v1h-3zM22 657h3v1h-3zM364 657h3v1h-3zM994 657h3v1h-3zM1000 657h1v1h-1zM28 658h3v1h-3zM353 658h2v1h-2zM358 658h3v1h-3zM1001 658h2v1h-2zM1006 658h3v1h-3zM34 659h3v1h-3zM40 659h1v1h-1zM346 659h3v1h-3zM352 659h1v1h-1zM1012 659h3v1h-3zM1018 659h3v1h-3zM1024 659h3v1h-3zM1030 659h3v1h-3zM41 660h2v1h-2zM46 660h3v1h-3zM52 660h3v1h-3zM340 660h3v1h-3zM1036 660h3v1h-3zM1042 660h3v1h-3zM1048 660h3v1h-3zM1054 660h3v1h-3zM1060 660h3v1h-3zM1066 660h3v1h-3zM1072 660h1v1h-1zM1084 660h3v1h-3zM1090 660h3v1h-3zM1096 660h1v1h-1zM58 661h3v1h-3zM64 661h1v1h-1zM329 661h2v1h-2zM334 661h3v1h-3zM1073 661h2v1h-2zM1078 661h3v1h-3zM1097 661h2v1h-2zM1102 661h3v1h-3zM1108 661h3v1h-3zM1114 661h3v1h-3zM1120 661h3v1h-3zM1126 661h3v1h-3zM1132 661h3v1h-3zM1138 661h3v1h-3zM1144 661h1v1h-1zM65 662h2v1h-2zM70 662h3v1h-3zM322 662h3v1h-3zM328 662h1v1h-1zM1145 662h2v1h-2zM1150 662h3v1h-3zM1156 662h3v1h-3zM76 663h3v1h-3zM82 663h3v1h-3zM88 663h1v1h-1zM316 663h3v1h-3zM1162 663h1v1h-1zM89 664h2v1h-2zM94 664h3v1h-3zM100 664h3v1h-3zM106 664h3v1h-3zM112 664h1v1h-1zM298 664h3v1h-3zM304 664h3v1h-3zM310 664h3v1h-3zM1163 664h2v1h-2zM1168 664h1v1h-1zM113 665h2v1h-2zM118 665h3v1h-3zM124 665h3v1h-3zM130 665h3v1h-3zM136 665h3v1h-3zM142 665h3v1h-3zM292 665h3v1h-3zM1169 665h2v1h-2zM148 666h3v1h-3zM154 666h3v1h-3zM160 666h1v1h-1zM274 666h3v1h-3zM280 666h3v1h-3zM286 666h3v1h-3zM161 667h2v1h-2zM166 667h3v1h-3zM268 667h3v1h-3zM172 668h3v1h-3zM257 668h2v1h-2zM262 668h3v1h-3zM178 669h3v1h-3zM184 669h1v1h-1zM250 669h3v1h-3zM256 669h1v1h-1zM185 670h2v1h-2zM190 670h3v1h-3zM233 670h2v1h-2zM238 670h3v1h-3zM244 670h3v1h-3zM196 671h3v1h-3zM202 671h3v1h-3zM208 671h3v1h-3zM214 671h3v1h-3zM220 671h3v1h-3zM226 671h3v1h-3zM232 671h1v1h-1z" fill="#ff0000"/>
<text x="8.4" y="604" font-size="9.5" fill="#000" textLength="65.6" lengthAdjust="spacingAndGlyphs" class="s">MACD(12,26,9)</text>
<text x="77.2" y="604" font-size="9.5" fill="#000" textLength="40.8" lengthAdjust="spacingAndGlyphs" class="s">-0.005311</text>
<text x="120.9" y="604" font-size="9.5" fill="#000" textLength="41.2" lengthAdjust="spacingAndGlyphs" class="s">-0.002455</text>
<rect x="1489" y="593" width="1" height="1" fill="#000"/>
<rect x="1489" y="660" width="1" height="1" fill="#000"/>
<rect x="1489" y="676" width="1" height="1" fill="#000"/>
<text x="1492" y="602" font-size="9.5" fill="#000" textLength="38.6" lengthAdjust="spacingAndGlyphs" class="s">0.032493</text>
<text x="1492" y="664" font-size="9.5" fill="#000" textLength="18" lengthAdjust="spacingAndGlyphs" class="s">0.00</text>
<text x="1492" y="675" font-size="9.5" fill="#000" textLength="42" lengthAdjust="spacingAndGlyphs" class="s">-0.008086</text>
<rect x="4" y="678" width="1" height="3" fill="#000"/>
<text x="3.4" y="690" font-size="9.5" fill="#000" textLength="51.4" lengthAdjust="spacingAndGlyphs" class="s">10 Dec 2019</text>
<rect x="68" y="678" width="1" height="3" fill="#000"/>
<text x="67.4" y="690" font-size="9.5" fill="#000" textLength="51.4" lengthAdjust="spacingAndGlyphs" class="s">19 Dec 2019</text>
<rect x="132" y="678" width="1" height="3" fill="#000"/>
<text x="131.4" y="690" font-size="9.5" fill="#000" textLength="51.4" lengthAdjust="spacingAndGlyphs" class="s">28 Dec 2019</text>
<rect x="196" y="678" width="1" height="3" fill="#000"/>
<text x="195.4" y="690" font-size="9.5" fill="#000" textLength="44.4" lengthAdjust="spacingAndGlyphs" class="s">7 Jan 2020</text>
<rect x="260" y="678" width="1" height="3" fill="#000"/>
<text x="259.4" y="690" font-size="9.5" fill="#000" textLength="50.2" lengthAdjust="spacingAndGlyphs" class="s">16 Jan 2020</text>
<rect x="324" y="678" width="1" height="3" fill="#000"/>
<text x="323.4" y="690" font-size="9.5" fill="#000" textLength="49.6" lengthAdjust="spacingAndGlyphs" class="s">25 Jan 2020</text>
<rect x="388" y="678" width="1" height="3" fill="#000"/>
<text x="387.4" y="690" font-size="9.5" fill="#000" textLength="46.6" lengthAdjust="spacingAndGlyphs" class="s">4 Feb 2020</text>
<rect x="452" y="678" width="1" height="3" fill="#000"/>
<text x="451.4" y="690" font-size="9.5" fill="#000" textLength="51.4" lengthAdjust="spacingAndGlyphs" class="s">13 Feb 2020</text>
<rect x="516" y="678" width="1" height="3" fill="#000"/>
<text x="515.4" y="690" font-size="9.5" fill="#000" textLength="51.4" lengthAdjust="spacingAndGlyphs" class="s">22 Feb 2020</text>
<rect x="580" y="678" width="1" height="3" fill="#000"/>
<text x="579.4" y="690" font-size="9.5" fill="#000" textLength="46.2" lengthAdjust="spacingAndGlyphs" class="s">3 Mar 2020</text>
<rect x="644" y="678" width="1" height="3" fill="#000"/>
<text x="643.4" y="690" font-size="9.5" fill="#000" textLength="51" lengthAdjust="spacingAndGlyphs" class="s">12 Mar 2020</text>
<rect x="708" y="678" width="1" height="3" fill="#000"/>
<text x="707.4" y="690" font-size="9.5" fill="#000" textLength="51.8" lengthAdjust="spacingAndGlyphs" class="s">21 Mar 2020</text>
<rect x="772" y="678" width="1" height="3" fill="#000"/>
<text x="771.4" y="690" font-size="9.5" fill="#000" textLength="51.4" lengthAdjust="spacingAndGlyphs" class="s">31 Mar 2020</text>
<rect x="836" y="678" width="1" height="3" fill="#000"/>
<text x="835.4" y="690" font-size="9.5" fill="#000" textLength="44.8" lengthAdjust="spacingAndGlyphs" class="s">9 Apr 2020</text>
<rect x="900" y="678" width="1" height="3" fill="#000"/>
<text x="899.4" y="690" font-size="9.5" fill="#000" textLength="50.2" lengthAdjust="spacingAndGlyphs" class="s">18 Apr 2020</text>
<rect x="964" y="678" width="1" height="3" fill="#000"/>
<text x="963.4" y="690" font-size="9.5" fill="#000" textLength="50.2" lengthAdjust="spacingAndGlyphs" class="s">28 Apr 2020</text>
<rect x="1028" y="678" width="1" height="3" fill="#000"/>
<text x="1027.4" y="690" font-size="9.5" fill="#000" textLength="49.2" lengthAdjust="spacingAndGlyphs" class="s">7 May 2020</text>
<rect x="1092" y="678" width="1" height="3" fill="#000"/>
<text x="1091.4" y="690" font-size="9.5" fill="#000" textLength="54.2" lengthAdjust="spacingAndGlyphs" class="s">16 May 2020</text>
<rect x="1156" y="678" width="1" height="3" fill="#000"/>
<text x="1155.4" y="690" font-size="9.5" fill="#000" textLength="54.6" lengthAdjust="spacingAndGlyphs" class="s">26 May 2020</text>
<rect x="0" y="698" width="1530" height="1" fill="#e8e8e8"/>
<rect x="0" y="700" width="1530" height="1" fill="#000"/>
<rect x="0" y="701" width="1530" height="19" fill="#f0f0f0"/>
<rect x="0" y="720" width="1530" height="2" fill="#f8f8f8"/>
<rect x="0" y="700" width="1" height="19" fill="#404040"/>
<rect x="313" y="700" width="104" height="19" fill="#000"/>
<rect x="314" y="700" width="102" height="18" fill="#fff"/>
<rect x="417" y="702" width="1" height="18" fill="#a0a0a0"/>
<rect x="315" y="719" width="103" height="1" fill="#a0a0a0"/>
<text x="17.3" y="715" font-size="12.6" fill="#6a6a6a" textLength="79.6" lengthAdjust="spacingAndGlyphs">EURUSD,Daily</text>
<text x="118.8" y="715" font-size="12.6" fill="#6a6a6a" textLength="79.9" lengthAdjust="spacingAndGlyphs">USDCHF,Daily</text>
<text x="219.8" y="715" font-size="12.6" fill="#6a6a6a" textLength="82.4" lengthAdjust="spacingAndGlyphs">AUDUSD,Daily</text>
<text x="324.3" y="715" font-size="12.6" fill="#000" textLength="80.9" lengthAdjust="spacingAndGlyphs">USDCAD,Daily</text>
<text x="427.1" y="715" font-size="12.6" fill="#6a6a6a" textLength="82.1" lengthAdjust="spacingAndGlyphs">USDCNH,Daily</text>
<text x="533.3" y="715" font-size="12.6" fill="#6a6a6a" textLength="79.3" lengthAdjust="spacingAndGlyphs">EURUSD,Daily</text>
<text x="637.0999999999999" y="715" font-size="12.6" fill="#6a6a6a" textLength="80.1" lengthAdjust="spacingAndGlyphs">GBPUSD,Daily</text>
<text x="739.5" y="715" font-size="12.6" fill="#6a6a6a" textLength="69.2" lengthAdjust="spacingAndGlyphs">XAUUSD,H4</text>
<text x="832.3" y="715" font-size="12.6" fill="#6a6a6a" textLength="49.1" lengthAdjust="spacingAndGlyphs">HK50,H1</text>
<text x="904.1999999999999" y="715" font-size="12.6" fill="#6a6a6a" textLength="56.1" lengthAdjust="spacingAndGlyphs">UK100,H1</text>
<text x="984.0" y="715" font-size="12.6" fill="#6a6a6a" textLength="56.1" lengthAdjust="spacingAndGlyphs">UK100,H1</text>
<text x="1064.0" y="715" font-size="12.6" fill="#6a6a6a" textLength="56.7" lengthAdjust="spacingAndGlyphs">GER30,H1</text>
<text x="1142.8" y="715" font-size="12.6" fill="#6a6a6a" textLength="54.9" lengthAdjust="spacingAndGlyphs">FRA40,H1</text>
<text x="1219.2" y="715" font-size="12.6" fill="#6a6a6a" textLength="50.5" lengthAdjust="spacingAndGlyphs">USOil,H1</text>
<text x="1290.8" y="715" font-size="12.6" fill="#6a6a6a" textLength="62.4" lengthAdjust="spacingAndGlyphs">USDJPY,H1</text>
<text x="1375.2" y="715" font-size="12.6" fill="#6a6a6a" textLength="46.2" lengthAdjust="spacingAndGlyphs">DJ30,H1</text>
<rect x="109" y="703" width="1" height="14" fill="#404040"/>
<rect x="209" y="703" width="1" height="14" fill="#404040"/>
<rect x="521" y="703" width="1" height="14" fill="#404040"/>
<rect x="625" y="703" width="1" height="14" fill="#404040"/>
<rect x="729" y="703" width="1" height="14" fill="#404040"/>
<rect x="821" y="703" width="1" height="14" fill="#404040"/>
<rect x="893" y="703" width="1" height="14" fill="#404040"/>
<rect x="973" y="703" width="1" height="14" fill="#404040"/>
<rect x="1053" y="703" width="1" height="14" fill="#404040"/>
<rect x="1133" y="703" width="1" height="14" fill="#404040"/>
<rect x="1209" y="703" width="1" height="14" fill="#404040"/>
<rect x="1281" y="703" width="1" height="14" fill="#404040"/>
<rect x="1365" y="703" width="1" height="14" fill="#404040"/>
<rect x="1433" y="703" width="1" height="14" fill="#404040"/>
<path d="M1508 706v7l-4 -3.5z" fill="#a0a0a0"/><path d="M1523 706v7l4 -3.5z" fill="#a0a0a0"/></svg></body></html>
